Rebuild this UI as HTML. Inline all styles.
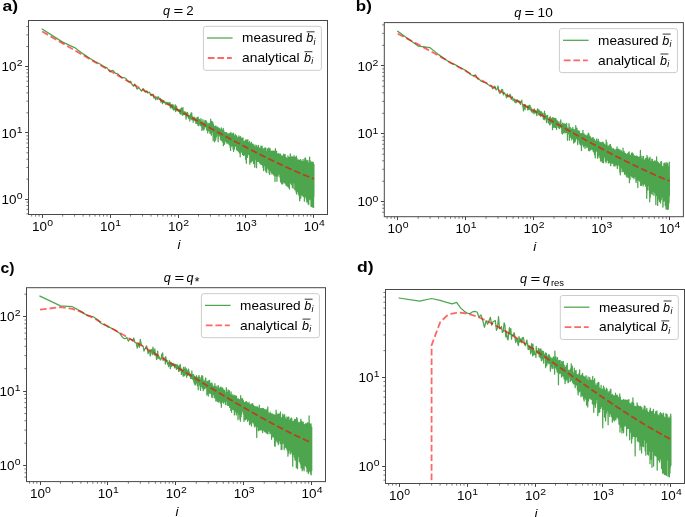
<!DOCTYPE html>
<html><head><meta charset="utf-8"><title>figure</title>
<style>html,body{margin:0;padding:0;background:#fff}svg{display:block}</style></head>
<body>
<svg width="685" height="517" viewBox="0 0 685 517" font-family='"Liberation Sans", sans-serif' fill="#000">
<rect width="685" height="517" fill="#fff"/>
<g opacity="0.999">
<clipPath id="clipa"><rect x="28.5" y="20.5" width="299.0" height="194.0"/></clipPath>
<g clip-path="url(#clipa)" fill="none" stroke-linejoin="round">
<polyline points="42.2,29.14 62.65,42.14 74.61,47.57 83.1,53.88 89.68,58.31 95.06,61.51 99.61,63.77 103.55,66.34 107.02,67.8 110.13,71.81 112.94,70.32 115.51,73.44 117.87,73.93 120.06,76.19 122.09,77.75 124,77.7 125.78,78.25 127.47,80.71 129.07,81.59 130.58,81.31 132.02,84.42 133.39,86.22 134.7,84.18 135.96,86.47 137.16,89.12 138.32,88.1 139.43,88.25 140.51,89.98 141.54,91.06 142.54,89.37 143.51,88.74 144.44,90.9 145.35,92.19 146.23,91.07 147.09,91.11 147.92,93.05 148.73,92.32 149.51,92.09 150.28,94.31 151.03,95.64 151.76,94.38 152.47,94.93 153.16,94.15 153.84,98 154.5,97.44 155.15,98.08 155.79,99.83 156.41,97.4 157.02,97.18 157.61,99.36 158.2,96.68 158.77,97.78 159.33,98.38 159.88,99.01 160.42,98.52 160.95,102.19 161.48,99.59 161.99,99.9 162.49,103.75 162.99,100.84 163.48,102.01 163.96,100.72 164.43,102.83 164.89,102.49 165.35,102.18 165.8,104.27 166.25,102.28 166.68,103.63 167.11,102.93 167.54,104.73 167.96,102.45 168.37,103.45 168.78,104.93 169.18,103.85 169.57,103.05 169.96,102.43 170.35,107.96 170.73,104.29 171.11,105.2 171.48,106.36 171.84,107.97 172.21,104.47 172.56,108.82 172.92,106.03 173.27,104.97 173.61,110.03 173.95,108.1 174.29,109.95 174.62,107.56 174.95,105.5 175.28,104.82 175.6,111.58 175.92,109.69 176.23,107.62 176.55,106.23 176.86,108.48 177.16,110.72 177.46,109.05 177.76,109.82 178.06,110.31 178.35,111.41 178.64,109.54 178.93,109.85 179.22,110.78 179.5,111.17 179.78,113.28 180.06,111.96 180.33,108.9 180.6,111.74 180.87,114.25 181.14,109.08 181.4,110.78 181.67,107.93 181.93,112.02 182.18,113.16 182.44,115.25 182.69,109.92 182.94,107.74 183.19,114.45 183.44,114.25 183.68,111.89 183.93,114.91 184.17,113.94 184.41,114.23 184.64,113.27 184.88,111.52 185.11,113.91 185.34,112.13 185.57,115.05 185.8,113.62 186.03,119.05 186.25,117.64 186.47,112.99 186.69,116.06 186.91,113.69 187.13,113.89 187.35,112.35 187.56,113.54 187.77,113.21 187.99,115.81 188.2,117.18 188.4,117.37 188.61,116.96 188.82,118.51 189.02,117.33 189.22,116.47 189.43,115.8 189.63,117.23 189.82,121.04 190.02,116.88 190.22,116.3 190.41,114.47 190.61,115.7 190.8,118.6 190.99,118.89 191.18,112.91 191.37,115.71 191.55,113.48 191.74,112.96 191.93,119.67 192.11,116.98 192.29,116.91 192.47,116.77 192.65,116.91 192.83,117.82 193.01,117.98 193.19,122.15 193.37,118.98 193.54,120.47 193.71,118.49 193.89,120 194.06,117.5 194.23,117.13 194.4,118.43 194.57,118.5 194.74,119.14 194.9,120.54 195.07,119.95 195.24,120.85 195.4,118.79 195.56,119.8 195.73,118.5 195.89,123.4 196.05,117.95 196.21,122.1 196.37,122.13 196.53,120.86 196.68,121.87 196.84,119.82 197,122.08 197.15,123.49 197.3,122.98 197.46,117.71 197.61,120.87 197.76,124.13 197.91,121.13 198.06,125.43 198.21,117.02 198.36,125.53 198.51,120.27 198.66,120.19 198.8,125.59 198.95,120.96 199.09,119.32 199.24,120.69 199.38,121.3 199.52,119.66 199.67,121.71 199.81,121.34 199.95,122.62 200.09,120.74 200.23,125.02 200.37,120.5 200.51,123.96 200.64,125.7 200.78,121.8 200.92,118.63 201.05,120.44 201.19,124.39 201.32,121.24 201.45,124.37 201.59,123.54 201.72,123.04 201.85,130.4 201.98,122.91 202.11,126.43 202.24,125.53 202.37,127.97 202.5,128.19 202.63,126.49 202.76,121.69 202.89,119.71 203.01,124.07 203.14,121.23 203.27,124.88 203.39,130.08 203.52,123.87 203.64,123.15 203.76,125.64 203.89,123.66 204.01,123.01 204.13,127.16 204.25,129.2 204.38,125.39 204.5,125.43 204.62,125.91 204.74,122.33 204.86,120.57 204.97,126.31 205.09,123.26 205.21,122.7 205.33,123.35 205.44,122.55 205.56,126.57 205.68,123.47 205.79,120.33 205.91,123.42 206.02,127.54 206.14,124.06 206.25,122.42 206.36,124.83 206.48,127.63 206.59,121.89 206.7,130.01 206.81,124.71 206.92,126.22 207.03,130.03 207.14,122.99 207.25,125.37 207.36,130.15 207.47,124.79 207.58,127.87 207.69,133 207.8,128.82 207.9,125.96 208.01,124.99 208.12,126.36 208.22,126.76 208.33,125.62 208.44,127.66 208.54,123.83 208.65,126.7 208.75,126.34 208.85,125.7 208.96,130.77 209.06,129.64 209.16,123.24 209.27,126.5 209.37,128.42 209.47,126.59 209.57,129.19 209.67,126.88 209.77,129.92 209.87,127 209.98,133.32 210.07,124.21 210.17,129.64 210.27,133.54 210.37,128.8 210.47,129.34 210.65,119.14 210.79,132.16 210.98,132.84 211.12,127.46 211.27,127.99 211.41,135.17 211.56,128.9 211.7,124.26 211.84,121.26 211.98,131.28 212.12,132.22 212.26,129.25 212.44,126.77 212.58,131.96 212.76,128.75 212.9,122.32 213.03,130.06 213.17,140.67 213.35,130.32 213.49,124.39 213.66,127.27 213.8,130.11 213.96,131.36 214.1,126.34 214.27,126.53 214.41,130.57 214.57,141.77 214.71,132.36 214.86,127.56 215,131.37 215.16,140.59 215.3,127.62 215.45,126.35 215.59,131.66 215.74,139.66 215.88,125.79 216.06,128.42 216.2,131.75 216.35,136.95 216.49,130.09 216.63,130.18 216.77,133.03 216.94,131.76 217.08,129.47 217.26,126.92 217.4,133.94 217.57,134.79 217.71,129.06 217.87,130.39 218.01,136.95 218.18,141.84 218.32,127.78 218.48,131.16 218.62,134.45 218.78,131.66 218.92,128.15 219.07,131.25 219.21,135.55 219.36,135.9 219.5,130.82 219.65,128.95 219.79,135.06 219.94,134.9 220.08,129.54 220.26,130.64 220.4,139.16 220.57,138.96 220.71,133.17 220.85,131.63 220.99,140.23 221.16,139.59 221.3,127.76 221.46,130.33 221.6,139.63 221.73,140.12 221.87,135.3 222.03,131.39 222.17,141.08 222.36,137.36 222.5,130.57 222.66,129.87 222.8,135.89 222.95,142.4 223.09,133.18 223.27,128.26 223.41,145.62 223.55,138 223.69,130.46 223.83,131.42 223.97,141.4 224.14,141.58 224.28,132.48 224.45,132.72 224.59,144.19 224.75,140.39 224.89,132.78 225.05,132.52 225.19,138.27 225.35,141.02 225.49,132.74 225.65,135.4 225.79,140.29 225.94,139.34 226.08,134.19 226.23,133.49 226.37,137.78 226.54,142.33 226.68,132.58 226.85,133.16 226.99,143.26 227.13,140.77 227.27,133.81 227.44,135.82 227.58,140.99 227.74,142.88 227.88,134.22 228.04,134.35 228.18,142.93 228.36,139.31 228.5,133.89 228.66,136.19 228.8,140.32 228.95,144.56 229.09,136.41 229.26,137.71 229.4,143.56 229.57,142.92 229.71,133.32 229.85,134.62 229.99,143.17 230.13,147.12 230.27,134.06 230.43,137.45 230.57,150.49 230.75,141.39 230.89,132.28 231.07,133.5 231.21,145.03 231.36,143.13 231.5,134.14 231.65,134.91 231.79,146.07 231.94,144.94 232.08,136.19 232.24,134.85 232.38,145.71 232.55,141.93 232.69,138.39 232.85,133.5 232.99,142.8 233.14,149.21 233.28,135.83 233.44,133.21 233.58,151.38 233.75,147.04 233.89,136.25 234.06,138.16 234.2,145.73 234.37,149.04 234.51,138.97 234.65,135.86 234.79,146.23 234.93,144.87 235.07,136.53 235.25,134.31 235.39,143.05 235.57,146.15 235.71,135.38 235.86,138.2 236,144.9 236.15,144.82 236.29,135.69 236.45,137.81 236.59,147.95 236.76,149.98 236.9,136.5 237.06,139.74 237.2,148.54 237.35,146.5 237.49,140.22 237.65,137.8 237.79,150.71 237.96,149.55 238.1,138.67 238.25,138.76 238.39,147.71 238.53,151.24 238.67,140.97 238.83,135.86 238.97,151.96 239.13,149.66 239.27,139.78 239.45,137.03 239.59,152.97 239.76,149.37 239.9,141.68 240.05,137.49 240.19,156.81 240.35,148.88 240.49,141.32 240.65,136.6 240.79,143.94 240.95,149.58 241.09,138.39 241.25,141.05 241.39,152.05 241.54,150.92 241.68,140.2 241.85,138.43 241.99,147.68 242.15,151.45 242.29,141.97 242.45,140.83 242.59,154.49 242.75,150.95 242.89,137.93 243.04,138.14 243.18,151.28 243.35,155.45 243.49,141.5 243.65,143.86 243.79,155.23 243.95,152.05 244.09,142.89 244.25,141.65 244.39,151.48 244.55,147.19 244.69,141.76 244.85,142.45 244.99,154.89 245.16,152.41 245.3,140.02 245.46,144.48 245.6,159.36 245.76,151.94 245.9,140.15 246.05,145.38 246.19,155.44 246.34,163.32 246.48,140.22 246.65,140.17 246.79,153.24 246.95,152.56 247.09,142.67 247.25,145.93 247.39,153.81 247.56,157.3 247.7,144.98 247.86,139.51 248,154.82 248.15,151.23 248.29,142.26 248.45,143.19 248.59,154.19 248.76,152.8 248.9,145.51 249.05,146.12 249.19,153.59 249.34,154.4 249.48,144.33 249.64,141.47 249.78,164.15 249.95,157.69 250.09,147.28 250.25,144.4 250.39,155.87 250.54,158.07 250.68,144.24 250.84,143.57 250.98,162.23 251.15,157.53 251.29,147.31 251.46,142.48 251.6,161.37 251.75,156.55 251.89,147.36 252.05,143.94 252.19,160.54 252.35,156.16 252.49,147.55 252.64,144.47 252.78,156.35 252.95,160.3 253.09,148.65 253.25,144.31 253.39,157.4 253.55,163.5 253.69,146.02 253.85,147.43 253.99,159.39 254.16,160.7 254.3,147.93 254.45,148.99 254.59,160.6 254.75,167.2 254.89,147.52 255.05,144.99 255.19,159.16 255.35,159.02 255.49,146.76 255.65,147.93 255.79,158.98 255.95,157.42 256.09,148.96 256.25,147.78 256.39,160.82 256.55,167.65 256.69,145.31 256.85,146.83 256.99,156.69 257.14,158.06 257.28,148.5 257.45,147.4 257.59,159.74 257.74,161.34 257.88,147.74 258.05,147.77 258.19,156.84 258.35,158.52 258.49,145.49 258.65,150.94 258.79,161.38 258.95,158.95 259.09,148.81 259.26,149.36 259.4,162.13 259.55,162.32 259.69,148.15 259.85,148.61 259.99,159.49 260.15,163.74 260.29,149.54 260.45,151.16 260.59,161.84 260.75,161.15 260.89,146.04 261.05,150.57 261.19,164.4 261.35,162.56 261.49,149.62 261.64,148.61 261.78,162.12 261.95,160.83 262.09,146.07 262.25,151.54 262.39,165.1 262.56,165.01 262.7,150.63 262.86,149.2 263,167.74 263.15,162.62 263.29,150.7 263.45,148.77 263.59,170.55 263.75,165.47 263.89,151.11 264.05,151.71 264.19,165.09 264.35,161 264.49,151.95 264.65,148.2 264.79,165.32 264.95,164.44 265.09,151.1 265.25,148.44 265.39,170.17 265.55,161.49 265.69,150.2 265.86,147.98 266,164.8 266.15,171.91 266.29,151.55 266.45,151.44 266.59,164.7 266.75,172.45 266.89,151.74 267.05,151.55 267.19,162.82 267.36,165.58 267.5,148.77 267.65,151.93 267.79,165.38 267.95,167.92 268.09,152.23 268.25,152.98 268.39,169.26 268.55,167.35 268.69,150.15 268.85,147.86 268.99,167.75 269.15,173.14 269.29,153.09 269.45,153.65 269.59,171.56 269.75,174.54 269.89,153.62 270.05,148.63 270.19,165.52 270.35,170.63 270.49,151.31 270.65,151.13 270.79,168.57 270.95,168.1 271.09,154.65 271.25,152.56 271.39,172.29 271.55,166.56 271.69,151.18 271.85,154.14 271.99,174 272.15,173.63 272.29,153.72 272.45,154.62 272.59,173.01 272.75,171.17 272.89,150.9 273.05,155.47 273.19,168.14 273.35,173.98 273.49,152.21 273.65,152.34 273.79,174.95 273.95,171.74 274.09,151.03 274.25,153.99 274.39,173.93 274.55,175.97 274.69,152 274.85,154.03 274.99,181.47 275.15,167.44 275.29,150.83 275.45,148.68 275.59,171.75 275.75,167.56 275.89,155.44 276.05,151.66 276.19,170.22 276.35,175.95 276.49,157.16 276.65,151.38 276.79,169.25 276.95,181.17 277.09,155.8 277.25,154.95 277.39,173.55 277.55,171.24 277.69,154.08 277.85,155.54 277.99,171.17 278.15,176.04 278.29,157.87 278.45,153.56 278.59,170.71 278.75,172.98 278.89,160.27 279.05,157.15 279.19,170.57 279.35,173.97 279.49,154.27 279.65,155.57 279.79,172.91 279.95,177.29 280.09,153.96 280.25,156.47 280.39,177.21 280.55,181.89 280.69,154.73 280.85,155.58 280.99,174.64 281.15,182.1 281.29,156.5 281.45,156.1 281.59,183.66 281.75,183.74 281.89,158.56 282.05,156.36 282.19,178.32 282.35,176.4 282.49,155.86 282.65,156.61 282.79,183.92 282.95,176.37 283.09,156.48 283.25,159.82 283.39,175.55 283.55,179.12 283.69,154.06 283.85,157.62 283.99,182.07 284.15,178.94 284.29,155.96 284.45,158.88 284.59,177.46 284.75,183.02 284.89,158.97 285.05,154.38 285.19,179.28 285.35,179.01 285.49,156.85 285.65,159.52 285.79,179.29 285.95,185.21 286.09,157.4 286.25,158.46 286.39,176.5 286.55,177.58 286.69,158.72 286.85,160.41 286.99,175.84 287.15,186.18 287.29,159.33 287.45,159.74 287.59,180.6 287.75,178.07 287.89,155.79 288.05,156.57 288.19,173.83 288.35,187.2 288.49,157.32 288.65,158.51 288.79,182.39 288.95,178.44 289.09,157.8 289.25,157.29 289.39,189.09 289.55,178.35 289.69,158.16 289.85,160.12 289.99,182.94 290.15,180.94 290.29,153.99 290.45,159.85 290.59,182.18 290.75,182.75 290.89,160.85 291.05,156.35 291.19,184.05 291.35,179.34 291.49,160.88 291.65,157.54 291.79,184.78 291.95,183.88 292.09,158.71 292.25,160.57 292.39,187.34 292.55,184.32 292.69,156.79 292.85,158.95 292.99,184.15 293.15,188.3 293.29,160.85 293.45,160.9 293.59,179.96 293.75,181.43 293.89,160.86 294.05,155.56 294.19,182.85 294.35,182.62 294.49,158.56 294.65,157.55 294.79,189.81 294.95,179.43 295.09,158.24 295.25,157.4 295.39,187.51 295.55,185.18 295.69,158.84 295.85,157.98 295.99,190.21 296.15,192.28 296.29,156.06 296.45,158.66 296.59,194.1 296.75,183.53 296.89,158.19 297.05,159.41 297.19,191.54 297.35,189.21 297.49,160.18 297.65,164.89 297.79,188.5 297.95,188.25 298.09,163.86 298.25,160.08 298.39,194.07 298.55,193.17 298.69,159.91 298.85,159.98 298.99,195.31 299.15,183.65 299.29,163.42 299.45,160.38 299.59,200.49 299.75,200.85 299.89,160.47 300.05,162.33 300.19,187.68 300.35,197.97 300.49,161.18 300.65,159.54 300.79,198.01 300.95,187.53 301.09,161.75 301.25,162.67 301.39,194.48 301.55,188.5 301.69,161.02 301.85,162.06 301.99,195.1 302.15,192.98 302.29,164.11 302.45,162.74 302.59,193.28 302.75,188.34 302.89,162.48 303.05,159.38 303.19,196.42 303.35,192.78 303.49,163.68 303.65,161.72 303.79,191.76 303.95,191.89 304.09,164.99 304.25,164.45 304.39,201.19 304.55,189.43 304.69,162.03 304.85,158.49 304.99,195.58 305.15,196.64 305.29,157.93 305.45,159.59 305.59,193.45 305.75,196.37 305.89,159.6 306.05,162.48 306.19,198.93 306.35,189.66 306.49,165.38 306.65,160.86 306.79,202.04 306.95,188.32 307.09,162.48 307.25,163.56 307.39,197.97 307.55,194.05 307.69,162.4 307.85,160.43 307.99,197.61 308.15,203.9 308.29,163.18 308.45,163.68 308.59,198.85 308.75,204.54 308.89,162.93 309.05,163.09 309.19,199.78 309.35,194.93 309.49,163.05 309.65,157.15 309.79,197.98 309.95,197.09 310.09,160.33 310.25,165.96 310.39,199.19 310.55,197.07 310.69,165.47 310.85,162.87 310.99,204.83 311.15,206.4 311.29,165.84 311.45,162.16 311.59,195.61 311.75,192.34 311.89,163.39 312.05,161.92 312.19,202.31 312.35,206.91 312.49,162.52 312.65,165.03 312.79,199.82 312.95,201.45 313.09,165.35 313.25,162.3 313.39,196.32 313.55,207.41 313.69,164.86 313.77,164.37 313.91,196.62 313.92,164.37 313.92,189.15" stroke="#008000" stroke-opacity="0.7" stroke-width="1.25" stroke-linecap="square"/>
<polyline points="42.2,31.55 62.65,43.37 74.61,50.3 83.1,55.22 89.68,59.04 95.06,62.16 99.61,64.8 103.55,67.08 107.02,69.09 110.13,70.89 112.94,72.52 115.51,74.01 117.87,75.38 120.06,76.64 122.09,77.82 124,78.92 125.78,79.96 127.47,80.93 129.07,81.85 130.58,82.73 132.02,83.56 133.39,84.35 134.7,85.11 135.96,85.83 137.16,86.53 138.32,87.2 139.43,87.84 140.51,88.46 141.54,89.05 142.54,89.63 143.51,90.19 144.44,90.73 145.35,91.25 146.23,91.76 147.09,92.25 147.92,92.73 148.73,93.19 149.51,93.64 150.28,94.08 151.03,94.51 151.76,94.93 152.47,95.34 153.16,95.74 153.84,96.13 154.5,96.51 155.15,96.88 155.79,97.24 156.41,97.6 157.02,97.95 157.61,98.29 158.2,98.63 158.77,98.95 159.33,99.28 159.88,99.59 160.42,99.9 160.95,100.21 161.48,100.51 161.99,100.8 162.49,101.09 162.99,101.37 163.48,101.65 163.96,101.92 164.43,102.19 164.89,102.46 165.35,102.72 165.8,102.98 166.25,103.23 166.68,103.48 167.11,103.73 167.54,103.97 167.96,104.21 168.37,104.44 168.78,104.68 169.18,104.91 169.57,105.13 169.96,105.35 170.35,105.57 170.73,105.79 171.11,106.01 171.48,106.22 171.84,106.43 172.21,106.63 172.56,106.84 172.92,107.04 173.27,107.24 173.61,107.43 173.95,107.63 174.29,107.82 174.62,108.01 174.95,108.19 175.28,108.38 175.6,108.56 175.92,108.74 176.23,108.92 176.55,109.1 176.86,109.28 177.16,109.45 177.46,109.62 177.76,109.79 178.06,109.96 178.35,110.13 178.64,110.29 178.93,110.46 179.22,110.62 179.5,110.78 179.78,110.94 180.06,111.09 180.33,111.25 180.6,111.4 180.87,111.56 181.14,111.71 181.4,111.86 181.67,112 181.93,112.15 182.18,112.3 182.44,112.44 182.69,112.59 182.94,112.73 183.19,112.87 183.44,113.01 183.68,113.15 183.93,113.28 184.17,113.42 184.41,113.56 184.64,113.69 184.88,113.82 185.11,113.95 185.34,114.08 185.57,114.21 185.8,114.34 186.03,114.47 186.25,114.6 186.47,114.72 186.69,114.85 186.91,114.97 187.13,115.09 187.35,115.22 187.56,115.34 187.77,115.46 187.99,115.58 188.2,115.7 188.4,115.81 188.61,115.93 188.82,116.05 189.02,116.16 189.22,116.27 189.43,116.39 189.63,116.5 189.82,116.61 190.02,116.72 190.22,116.83 190.41,116.94 190.61,117.05 190.8,117.16 190.99,117.27 191.18,117.38 191.37,117.48 191.55,117.59 191.74,117.69 191.93,117.8 192.11,117.9 192.29,118 192.47,118.1 192.65,118.2 192.83,118.31 193.01,118.41 193.19,118.51 193.37,118.6 193.54,118.7 193.71,118.8 193.89,118.9 194.06,118.99 194.23,119.09 194.4,119.19 194.57,119.28 194.74,119.37 194.9,119.47 195.07,119.56 195.24,119.65 195.4,119.75 195.56,119.84 195.73,119.93 195.89,120.02 196.05,120.11 196.21,120.2 196.37,120.29 196.53,120.38 196.68,120.46 196.84,120.55 197,120.64 197.15,120.73 197.3,120.81 197.46,120.9 197.61,120.98 197.76,121.07 197.91,121.15 198.06,121.24 198.21,121.32 198.36,121.4 198.51,121.49 198.66,121.57 198.8,121.65 198.95,121.73 199.09,121.81 199.24,121.89 199.38,121.97 199.52,122.05 199.67,122.13 199.81,122.21 199.95,122.29 200.09,122.37 200.23,122.45 200.37,122.52 200.51,122.6 200.64,122.68 200.78,122.75 200.92,122.83 201.05,122.91 201.19,122.98 201.32,123.06 201.45,123.13 201.59,123.21 201.72,123.28 201.85,123.35 201.98,123.43 202.11,123.5 202.24,123.57 202.37,123.64 202.5,123.72 202.63,123.79 202.76,123.86 202.89,123.93 203.01,124 203.14,124.07 203.27,124.14 203.39,124.21 203.52,124.28 203.64,124.35 203.76,124.42 203.89,124.49 204.01,124.55 204.13,124.62 204.25,124.69 204.38,124.76 204.5,124.82 204.62,124.89 204.74,124.96 204.86,125.02 204.97,125.09 205.09,125.16 205.21,125.22 205.33,125.29 205.44,125.35 205.56,125.42 205.68,125.48 205.79,125.54 205.91,125.61 206.02,125.67 206.14,125.73 206.25,125.8 206.36,125.86 206.48,125.92 206.59,125.99 206.7,126.05 206.81,126.11 206.92,126.17 207.03,126.23 207.14,126.29 207.25,126.35 207.36,126.42 207.47,126.48 207.58,126.54 207.69,126.6 207.8,126.66 207.9,126.72 208.01,126.77 208.12,126.83 208.22,126.89 208.33,126.95 208.44,127.01 208.54,127.07 208.65,127.13 208.75,127.18 208.85,127.24 208.96,127.3 209.06,127.36 209.16,127.41 209.27,127.47 209.37,127.53 209.47,127.58 209.57,127.64 209.67,127.69 209.77,127.75 209.87,127.81 209.98,127.86 210.07,127.92 210.17,127.97 210.27,128.03 210.37,128.08 210.47,128.13 210.57,128.19 210.67,128.24 210.76,128.3 210.86,128.35 210.96,128.4 211.06,128.46 211.15,128.51 211.25,128.56 211.34,128.62 211.44,128.67 211.53,128.72 211.63,128.77 211.72,128.83 211.82,128.88 211.91,128.93 212,128.98 212.1,129.03 212.19,129.08 212.28,129.13 212.37,129.19 212.47,129.24 212.56,129.29 212.65,129.34 212.74,129.39 212.83,129.44 212.92,129.49 213.01,129.54 213.1,129.59 213.19,129.64 213.28,129.69 213.37,129.73 213.46,129.78 213.55,129.83 213.64,129.88 213.73,129.93 213.81,129.98 213.9,130.03 213.99,130.07 214.08,130.12 214.16,130.17 214.25,130.22 214.34,130.27 214.42,130.31 214.51,130.36 214.59,130.41 214.68,130.45 214.76,130.5 214.85,130.55 214.93,130.59 215.02,130.64 215.1,130.69 215.19,130.73 215.27,130.78 215.35,130.82 215.44,130.87 215.52,130.92 215.6,130.96 215.69,131.01 215.77,131.05 215.85,131.1 215.93,131.14 216.01,131.19 216.09,131.23 216.18,131.28 216.26,131.32 216.34,131.36 216.42,131.41 216.5,131.45 216.58,131.5 216.66,131.54 216.74,131.58 216.82,131.63 216.9,131.67 216.98,131.71 217.05,131.76 217.13,131.8 217.21,131.84 217.29,131.89 217.37,131.93 217.44,131.97 217.52,132.01 217.6,132.06 217.68,132.1 217.75,132.14 217.83,132.18 217.91,132.22 217.98,132.27 218.06,132.31 218.14,132.35 218.21,132.39 218.29,132.43 218.36,132.47 218.44,132.51 218.51,132.55 218.59,132.6 218.66,132.64 218.74,132.68 218.81,132.72 218.88,132.76 218.96,132.8 219.03,132.84 220.82,133.81 222.5,134.73 224.09,135.59 225.6,136.41 227.04,137.19 228.41,137.93 229.72,138.63 230.97,139.31 232.17,139.95 233.33,140.57 234.44,141.16 235.51,141.73 236.54,142.28 237.54,142.81 238.51,143.33 239.44,143.82 240.35,144.3 241.23,144.76 242.08,145.21 242.91,145.65 243.72,146.07 244.51,146.48 245.27,146.88 246.02,147.27 246.75,147.65 247.46,148.02 248.15,148.38 248.83,148.73 249.49,149.07 250.14,149.41 250.77,149.73 251.39,150.05 252,150.37 252.6,150.67 253.18,150.97 253.75,151.27 254.31,151.55 254.87,151.83 255.41,152.11 255.94,152.38 256.46,152.64 256.97,152.91 257.48,153.16 257.97,153.41 258.46,153.66 258.94,153.9 259.41,154.14 259.87,154.37 260.33,154.6 260.78,154.83 261.22,155.05 261.66,155.27 262.09,155.48 262.52,155.7 262.93,155.9 263.35,156.11 263.75,156.31 264.15,156.51 264.55,156.71 264.94,156.9 265.33,157.09 265.71,157.28 266.08,157.47 266.45,157.65 266.82,157.83 267.18,158.01 267.54,158.18 267.89,158.36 268.24,158.53 268.59,158.7 268.93,158.87 269.26,159.03 269.6,159.19 269.93,159.35 270.25,159.51 270.57,159.67 270.89,159.82 271.21,159.98 271.52,160.13 271.83,160.28 272.14,160.43 272.44,160.57 272.74,160.72 273.03,160.86 273.33,161 273.62,161.14 273.91,161.28 274.19,161.42 274.47,161.55 274.75,161.69 275.03,161.82 275.3,161.95 275.58,162.08 275.84,162.21 276.11,162.34 276.38,162.46 276.64,162.59 276.9,162.71 277.16,162.83 277.41,162.95 277.66,163.07 277.92,163.19 278.16,163.31 278.41,163.43 278.66,163.54 278.9,163.66 279.14,163.77 279.38,163.88 279.61,164 279.85,164.11 280.08,164.22 280.31,164.32 280.54,164.43 280.77,164.54 281,164.64 281.22,164.75 281.44,164.85 281.67,164.96 281.88,165.06 282.1,165.16 282.32,165.26 282.53,165.36 282.75,165.46 282.96,165.56 283.17,165.66 283.38,165.75 283.58,165.85 283.79,165.94 283.99,166.04 284.19,166.13 284.4,166.22 284.6,166.32 284.79,166.41 284.99,166.5 285.19,166.59 285.38,166.68 285.58,166.77 285.77,166.85 285.96,166.94 286.15,167.03 286.34,167.12 286.52,167.2 286.71,167.29 286.9,167.37 287.08,167.45 287.26,167.54 287.44,167.62 287.62,167.7 287.8,167.78 287.98,167.86 288.16,167.94 288.33,168.02 288.51,168.1 288.68,168.18 288.86,168.26 289.03,168.34 289.2,168.42 289.37,168.49 289.54,168.57 289.71,168.64 289.87,168.72 290.04,168.79 290.2,168.87 290.37,168.94 290.53,169.02 290.7,169.09 290.86,169.16 291.02,169.23 291.18,169.3 291.34,169.38 291.49,169.45 291.65,169.52 291.81,169.59 291.96,169.66 292.12,169.72 292.27,169.79 292.43,169.86 292.58,169.93 292.73,170 292.88,170.06 293.03,170.13 293.18,170.2 293.33,170.26 293.48,170.33 293.62,170.39 293.77,170.46 293.92,170.52 294.06,170.59 294.21,170.65 294.35,170.71 294.49,170.78 294.63,170.84 294.78,170.9 294.92,170.96 295.06,171.02 295.2,171.08 295.33,171.15 295.47,171.21 295.61,171.27 295.75,171.33 295.88,171.39 296.02,171.44 296.15,171.5 296.29,171.56 296.42,171.62 296.56,171.68 296.69,171.74 296.82,171.79 296.95,171.85 297.08,171.91 297.21,171.96 297.34,172.02 297.47,172.08 297.6,172.13 297.73,172.19 297.85,172.24 297.98,172.3 298.11,172.35 298.23,172.41 298.36,172.46 298.48,172.51 298.61,172.57 298.73,172.62 298.85,172.67 298.98,172.73 299.1,172.78 299.22,172.83 299.34,172.88 299.46,172.93 299.58,172.99 299.7,173.04 299.82,173.09 299.94,173.14 300.06,173.19 300.18,173.24 300.29,173.29 300.41,173.34 300.53,173.39 300.64,173.44 300.76,173.49 300.87,173.54 300.99,173.59 301.1,173.63 301.22,173.68 301.33,173.73 301.44,173.78 301.55,173.83 301.67,173.87 301.78,173.92 301.89,173.97 302,174.01 302.11,174.06 302.22,174.11 302.33,174.15 302.44,174.2 302.55,174.24 302.65,174.29 302.76,174.34 302.87,174.38 302.98,174.43 303.08,174.47 303.19,174.52 303.3,174.56 303.4,174.6 303.51,174.65 303.61,174.69 303.72,174.74 303.82,174.78 303.92,174.82 304.03,174.87 304.13,174.91 304.23,174.95 304.33,174.99 304.44,175.04 304.54,175.08 304.64,175.12 304.74,175.16 304.84,175.21 304.94,175.25 305.04,175.29 305.14,175.33 305.24,175.37 305.34,175.41 305.44,175.45 305.54,175.49 305.63,175.53 305.73,175.57 305.83,175.61 305.92,175.65 306.02,175.69 306.12,175.73 306.21,175.77 306.31,175.81 306.4,175.85 306.5,175.89 306.59,175.93 306.69,175.97 306.78,176.01 306.88,176.05 306.97,176.08 307.06,176.12 307.16,176.16 307.25,176.2 307.34,176.24 307.43,176.27 307.52,176.31 307.62,176.35 307.71,176.39 307.8,176.42 307.89,176.46 307.98,176.5 308.07,176.53 308.16,176.57 308.25,176.61 308.34,176.64 308.43,176.68 308.52,176.72 308.6,176.75 308.69,176.79 308.78,176.82 308.87,176.86 308.95,176.89 309.04,176.93 309.13,176.97 309.22,177 309.3,177.04 309.39,177.07 309.47,177.1 309.56,177.14 309.64,177.17 309.73,177.21 309.81,177.24 309.9,177.28 309.98,177.31 310.07,177.34 310.15,177.38 310.24,177.41 310.32,177.45 310.4,177.48 310.49,177.51 310.57,177.55 310.65,177.58 310.73,177.61 310.81,177.64 310.9,177.68 310.98,177.71 311.06,177.74 311.14,177.77 311.22,177.81 311.3,177.84 311.38,177.87 311.46,177.9 311.54,177.94 311.62,177.97 311.7,178 311.78,178.03 311.86,178.06 311.94,178.09 312.02,178.13 312.1,178.16 312.18,178.19 312.25,178.22 312.33,178.25 312.41,178.28 312.49,178.31 312.56,178.34 312.64,178.37 312.72,178.4 312.8,178.43 312.87,178.46 312.95,178.49 313.02,178.52 313.1,178.55 313.18,178.58 313.25,178.61 313.33,178.64 313.4,178.67 313.48,178.7 313.55,178.73 313.63,178.76 313.7,178.79 313.78,178.82 313.85,178.85 313.92,178.88" stroke="#ff0000" stroke-opacity="0.6" stroke-width="1.8" stroke-dasharray="6.7 2.9" stroke-linecap="butt"/>
</g>
<path d="M42.5 214.5v3.4M110.5 214.5v3.4M178.5 214.5v3.4M245.5 214.5v3.4M313.5 214.5v3.4M28.5 199.5h-3.4M28.5 132.5h-3.4M28.5 66.5h-3.4" stroke="#444" stroke-width="1" fill="none"/>
<path d="M31.68 214.5v2.1M35.62 214.5v2.1M39.09 214.5v2.1M62.65 214.5v2.1M74.61 214.5v2.1M83.1 214.5v2.1M89.68 214.5v2.1M95.06 214.5v2.1M99.61 214.5v2.1M103.55 214.5v2.1M107.02 214.5v2.1M130.58 214.5v2.1M142.54 214.5v2.1M151.03 214.5v2.1M157.61 214.5v2.1M162.99 214.5v2.1M167.54 214.5v2.1M171.48 214.5v2.1M174.95 214.5v2.1M198.51 214.5v2.1M210.47 214.5v2.1M218.96 214.5v2.1M225.54 214.5v2.1M230.92 214.5v2.1M235.47 214.5v2.1M239.41 214.5v2.1M242.88 214.5v2.1M266.44 214.5v2.1M278.4 214.5v2.1M286.89 214.5v2.1M293.47 214.5v2.1M298.85 214.5v2.1M303.4 214.5v2.1M307.34 214.5v2.1M310.81 214.5v2.1M28.5 213.81h-2.1M28.5 209.37h-2.1M28.5 205.53h-2.1M28.5 202.13h-2.1M28.5 179.14h-2.1M28.5 167.47h-2.1M28.5 159.18h-2.1M28.5 152.76h-2.1M28.5 147.51h-2.1M28.5 143.07h-2.1M28.5 139.23h-2.1M28.5 135.83h-2.1M28.5 112.84h-2.1M28.5 101.17h-2.1M28.5 92.88h-2.1M28.5 86.46h-2.1M28.5 81.21h-2.1M28.5 76.77h-2.1M28.5 72.93h-2.1M28.5 69.53h-2.1M28.5 46.54h-2.1M28.5 34.87h-2.1M28.5 26.58h-2.1" stroke="#555" stroke-width="0.8" fill="none"/>
<rect x="28.5" y="20.5" width="299.0" height="194.0" fill="none" stroke="#484848" stroke-width="1"/>
<text x="32.1" y="230.6" font-size="13.4" textLength="15.0" lengthAdjust="spacingAndGlyphs">10</text><text x="47.3" y="225.7" font-size="9.3" textLength="5.8" lengthAdjust="spacingAndGlyphs">0</text>
<text x="100.03" y="230.6" font-size="13.4" textLength="15.0" lengthAdjust="spacingAndGlyphs">10</text><text x="115.23" y="225.7" font-size="9.3" textLength="5.8" lengthAdjust="spacingAndGlyphs">1</text>
<text x="167.96" y="230.6" font-size="13.4" textLength="15.0" lengthAdjust="spacingAndGlyphs">10</text><text x="183.16" y="225.7" font-size="9.3" textLength="5.8" lengthAdjust="spacingAndGlyphs">2</text>
<text x="235.89" y="230.6" font-size="13.4" textLength="15.0" lengthAdjust="spacingAndGlyphs">10</text><text x="251.09" y="225.7" font-size="9.3" textLength="5.8" lengthAdjust="spacingAndGlyphs">3</text>
<text x="303.82" y="230.6" font-size="13.4" textLength="15.0" lengthAdjust="spacingAndGlyphs">10</text><text x="319.02" y="225.7" font-size="9.3" textLength="5.8" lengthAdjust="spacingAndGlyphs">4</text>
<text x="1.6" y="203.8" font-size="13.4" textLength="15.0" lengthAdjust="spacingAndGlyphs">10</text><text x="16.8" y="198.9" font-size="9.3" textLength="5.8" lengthAdjust="spacingAndGlyphs">0</text>
<text x="1.6" y="137.5" font-size="13.4" textLength="15.0" lengthAdjust="spacingAndGlyphs">10</text><text x="16.8" y="132.6" font-size="9.3" textLength="5.8" lengthAdjust="spacingAndGlyphs">1</text>
<text x="1.6" y="71.2" font-size="13.4" textLength="15.0" lengthAdjust="spacingAndGlyphs">10</text><text x="16.8" y="66.3" font-size="9.3" textLength="5.8" lengthAdjust="spacingAndGlyphs">2</text>
<text x="179" y="248.9" font-size="13.4" font-style="italic" text-anchor="middle">i</text>
<rect x="203.4" y="26.3" width="118" height="44" rx="2.4" fill="#fff" fill-opacity="0.8" stroke="#ccc" stroke-width="1"/>
<path d="M207 38h25.6" stroke="#008000" stroke-opacity="0.7" stroke-width="1.25"/>
<path d="M207.8 58h24" stroke="#ff0000" stroke-opacity="0.6" stroke-width="1.8" stroke-dasharray="6.7 2.9"/>
<text x="242.1" y="42.3" font-size="12.6" textLength="60.6" lengthAdjust="spacingAndGlyphs">measured</text>
<text x="306.2" y="42.3" font-size="12.6" font-style="italic">b</text><path d="M306.7 31.8h7.9" stroke="#000" stroke-width="0.8"/><text x="313.5" y="44.5" font-size="8.8" font-style="italic">i</text>
<text x="242.1" y="62.2" font-size="12.6" textLength="57.4" lengthAdjust="spacingAndGlyphs">analytical</text>
<text x="304" y="62.2" font-size="12.6" font-style="italic">b</text><path d="M304.5 51.7h7.9" stroke="#000" stroke-width="0.8"/><text x="311.3" y="64.4" font-size="8.8" font-style="italic">i</text>
<clipPath id="clipb"><rect x="384.3" y="22.6" width="299.09999999999997" height="194.1"/></clipPath>
<g clip-path="url(#clipb)" fill="none" stroke-linejoin="round">
<polyline points="397.7,31.29 418.15,46.09 430.11,47.65 438.6,54.63 445.18,59.26 450.56,63.08 455.11,64.65 459.05,66.94 462.52,68.68 465.63,70.36 468.44,72.4 471.01,74.79 473.37,75.93 475.56,74.9 477.59,78.83 479.5,79.44 481.28,81.23 482.97,81.89 484.57,82.5 486.08,82.55 487.52,84.2 488.89,85.08 490.2,86.24 491.46,85.92 492.66,88.8 493.82,87.35 494.93,86.2 496.01,89.85 497.04,89.36 498.04,85.99 499.01,91.95 499.94,93.48 500.85,92.15 501.73,89.48 502.59,89.67 503.42,94.86 504.23,92.65 505.01,93.93 505.78,95.27 506.53,97.84 507.26,93.77 507.97,96.95 508.66,95.62 509.34,96.34 510,94.2 510.65,95.53 511.29,99.34 511.91,98.34 512.52,96.81 513.11,100.68 513.7,99.57 514.27,98.99 514.83,102.13 515.38,101.85 515.92,102.91 516.45,100.16 516.98,101.74 517.49,99.77 517.99,101.31 518.49,100.88 518.98,102.18 519.46,101.15 519.93,102.76 520.39,104.37 520.85,101.26 521.3,101.82 521.75,100.1 522.18,104.13 522.61,105.04 523.04,106.63 523.46,110.99 523.87,106.89 524.28,104.3 524.68,106.7 525.07,109.7 525.46,104.76 525.85,106.95 526.23,106.82 526.61,107.15 526.98,106.91 527.34,106.06 527.71,109.95 528.06,107.69 528.42,108.35 528.77,105.69 529.11,109.64 529.45,105.19 529.79,107.2 530.12,105.57 530.45,109.89 530.78,107.39 531.1,108.39 531.42,111.89 531.73,109.9 532.05,110.41 532.36,111.51 532.66,111.34 532.96,112.76 533.26,111.16 533.56,109.84 533.85,112.08 534.14,113.75 534.43,108.95 534.72,111.85 535,111.29 535.28,111.93 535.56,112.66 535.83,110.59 536.1,112.97 536.37,112.07 536.64,115.1 536.9,115.66 537.17,113.33 537.43,108.9 537.68,112.5 537.94,109.12 538.19,112.22 538.44,112.36 538.69,114.62 538.94,113.66 539.18,110.04 539.43,111.38 539.67,115.29 539.91,115.12 540.14,111.45 540.38,115.49 540.61,112.57 540.84,116.6 541.07,113.45 541.3,111.68 541.53,113.25 541.75,114.68 541.97,115.04 542.19,115.66 542.41,115.66 542.63,113.11 542.85,113.27 543.06,115.04 543.27,118.9 543.49,117.36 543.7,115.65 543.9,116.35 544.11,119.65 544.32,115.16 544.52,111.14 544.72,119.73 544.93,116.91 545.13,113.48 545.32,118.22 545.52,118.31 545.72,117.1 545.91,116.27 546.11,118.67 546.3,115.53 546.49,122.58 546.68,116.49 546.87,117.28 547.05,118.64 547.24,117.44 547.43,118.38 547.61,115.46 547.79,119.79 547.97,118.9 548.15,122.32 548.33,121.76 548.51,119.69 548.69,123.11 548.87,121.38 549.04,122.73 549.21,120.71 549.39,119.32 549.56,117.41 549.73,124.87 549.9,120.4 550.07,117.87 550.24,116.76 550.4,116.8 550.57,124.01 550.74,121.67 550.9,119.06 551.06,118.25 551.23,119.95 551.39,120.08 551.55,120.24 551.71,122.92 551.87,120.62 552.03,119.08 552.18,122.08 552.34,118.38 552.5,129.62 552.65,122.32 552.8,117.4 552.96,119.44 553.11,118.16 553.26,121.45 553.41,125.12 553.56,123.35 553.71,118.3 553.86,127.37 554.01,124.85 554.16,127.19 554.3,123.86 554.45,123.64 554.59,121.07 554.74,124.93 554.88,118.47 555.02,121.14 555.17,124.2 555.31,125.77 555.45,127.38 555.59,122.83 555.73,118.28 555.87,123.75 556.01,126.31 556.14,123.63 556.28,124.98 556.42,126.19 556.55,129.39 556.69,123.93 556.82,120.02 556.95,120.72 557.09,121.41 557.22,123.5 557.35,122.87 557.48,121.54 557.61,124.45 557.74,123.59 557.87,125.58 558,121.51 558.13,127.31 558.26,122.81 558.39,122.42 558.51,122.54 558.64,122.94 558.77,126.29 558.89,126.67 559.02,126.28 559.14,126.25 559.26,128.65 559.39,126.6 559.51,127.26 559.63,128.31 559.75,124.48 559.88,127.85 560,124.93 560.12,121.76 560.24,121.29 560.36,125.77 560.47,123.1 560.59,125.25 560.71,119.84 560.83,121.69 560.94,123.09 561.06,126.69 561.18,127.04 561.29,124.81 561.41,126.51 561.52,127.23 561.64,124.59 561.75,130.64 561.86,133.45 561.98,130 562.09,130.55 562.2,127.12 562.31,129.72 562.42,127.61 562.53,134.04 562.64,123.08 562.75,126.04 562.86,130.05 562.97,126.4 563.08,123.93 563.19,125.04 563.3,127.78 563.4,125.79 563.51,125.09 563.62,131.74 563.72,132.66 563.83,129.74 563.94,125.05 564.04,123.79 564.15,127.58 564.25,123.82 564.35,125.23 564.46,128.38 564.56,130.7 564.66,130.41 564.77,128.09 564.87,124.41 564.97,126 565.07,133.05 565.17,132.83 565.27,126.23 565.37,128.08 565.48,131.98 565.57,126.78 565.67,124.92 565.77,126.54 565.87,128.62 565.97,125.15 566.15,123.88 566.29,132.38 566.48,129.46 566.62,123.34 566.77,126.04 566.91,128.06 567.06,131.48 567.2,127.54 567.34,130.17 567.48,140.27 567.62,132.86 567.76,129.86 567.94,128.89 568.08,133.77 568.26,133.43 568.4,128.62 568.53,129.51 568.67,131.08 568.85,132.37 568.99,123.61 569.16,126.02 569.3,133.27 569.46,140.24 569.6,129.63 569.77,130.34 569.91,134.11 570.07,131.43 570.21,127.37 570.36,131.96 570.5,137.22 570.66,135.67 570.8,129.49 570.95,132.24 571.09,134.37 571.24,131.15 571.38,128.83 571.56,131.54 571.7,139.8 571.85,132.13 571.99,130.16 572.13,129.96 572.27,137.15 572.44,137.7 572.58,131.45 572.76,127.38 572.9,137.68 573.07,138.6 573.21,129.14 573.37,130.16 573.51,137.62 573.68,143.1 573.82,133.17 573.98,130.03 574.12,139.18 574.28,141.06 574.42,132.39 574.57,129.88 574.71,137.81 574.86,142.14 575,134.03 575.15,131.62 575.29,141.11 575.44,140.87 575.58,131.29 575.76,125.6 575.9,139.22 576.07,138.49 576.21,132.82 576.35,132.3 576.49,134.03 576.66,138.6 576.8,131.21 576.96,128.07 577.1,135.84 577.23,134.65 577.37,130.63 577.53,132.3 577.67,144.54 577.86,137.01 578,133.18 578.16,132.04 578.3,137.45 578.45,139.58 578.59,134.27 578.77,130.7 578.91,140.06 579.05,138.29 579.19,131.66 579.33,131.36 579.47,143.22 579.64,142.34 579.78,135.93 579.95,134.97 580.09,139.21 580.25,144.8 580.39,135.01 580.55,133.62 580.69,139.28 580.85,143.19 580.99,134.04 581.15,134.6 581.29,140.73 581.44,150.59 581.58,133.54 581.73,136 581.87,142.33 582.04,140.34 582.18,134.99 582.35,133.67 582.49,144.12 582.63,140.9 582.77,135.34 582.94,130.29 583.08,145.21 583.24,143.13 583.38,137.51 583.54,136.64 583.68,146.8 583.86,141.97 584,133.78 584.16,134.14 584.3,142.33 584.45,144.37 584.59,135.42 584.76,136 584.9,141.79 585.07,148.48 585.21,135.85 585.35,137.98 585.49,145.62 585.63,145.12 585.77,136.6 585.93,134.97 586.07,144.43 586.25,144.77 586.39,137.18 586.57,140.05 586.71,147.51 586.86,145.5 587,136.17 587.15,136.77 587.29,144.49 587.44,141.6 587.58,135.01 587.74,138.59 587.88,144.99 588.05,147.28 588.19,139.52 588.35,133.07 588.49,150.51 588.64,148.04 588.78,138.26 588.94,133.78 589.08,145.61 589.25,147.75 589.39,136.16 589.56,138.23 589.7,150.77 589.87,149.77 590.01,136.26 590.15,137.99 590.29,146.95 590.43,149.67 590.57,140.46 590.75,137.73 590.89,144.29 591.07,149.21 591.21,138.56 591.36,140.21 591.5,149.21 591.65,146.28 591.79,138.82 591.95,140.45 592.09,148.65 592.26,149.59 592.4,137.99 592.56,142.2 592.7,148.84 592.85,147.53 592.99,139.48 593.15,137.66 593.29,151.28 593.46,151.81 593.6,142.43 593.75,142.62 593.89,150.15 594.03,145.81 594.17,139.21 594.33,139.47 594.47,153.8 594.63,154.72 594.77,142.5 594.95,141.12 595.09,150.19 595.26,157.95 595.4,143.13 595.55,143.54 595.69,151.6 595.85,151.52 595.99,140.69 596.15,142.15 596.29,149.4 596.45,150.94 596.59,140.35 596.75,138.99 596.89,149.31 597.04,151.01 597.18,141.6 597.35,143.81 597.49,154.67 597.65,158.26 597.79,143.47 597.95,141.43 598.09,157.03 598.25,156.31 598.39,139.46 598.54,142.57 598.68,154.83 598.85,150.62 598.99,142.76 599.15,141.75 599.29,154.73 599.45,155.01 599.59,143.96 599.75,146.61 599.89,157.74 600.05,153.94 600.19,142.94 600.35,146.12 600.49,161.05 600.66,150.83 600.8,143.62 600.96,142.32 601.1,151.3 601.26,160.91 601.4,144.52 601.55,144.41 601.69,152.21 601.84,158.5 601.98,142.79 602.15,145.13 602.29,160.34 602.45,162.42 602.59,142.05 602.75,144.55 602.89,157.17 603.06,153.17 603.2,144.27 603.36,142.84 603.5,162.77 603.65,156.92 603.79,144.62 603.95,143.65 604.09,154.19 604.26,156.08 604.4,144.34 604.55,144.74 604.69,155.58 604.84,156.99 604.98,147.2 605.14,145.11 605.28,155.56 605.45,161.11 605.59,146.71 605.75,146.29 605.89,160.03 606.04,162.71 606.18,140 606.34,148.67 606.48,160.41 606.65,160.87 606.79,142.48 606.96,144.13 607.1,156.4 607.25,155.72 607.39,147.05 607.55,147.25 607.69,156.45 607.85,159.98 607.99,146.12 608.14,147.87 608.28,163.06 608.45,158.26 608.59,149.22 608.75,147.36 608.89,159.59 609.05,157.21 609.19,146.34 609.35,145.06 609.49,162.65 609.66,159.1 609.8,149.86 609.95,147.29 610.09,158.2 610.25,161.55 610.39,144.49 610.55,146.87 610.69,165.62 610.85,165.33 610.99,146.4 611.15,147.31 611.29,157.73 611.45,162.9 611.59,147.82 611.75,148.06 611.89,160.31 612.05,160.73 612.19,148.94 612.35,149.13 612.49,163.29 612.64,161.3 612.78,150.08 612.95,149.53 613.09,159.34 613.24,162.99 613.38,148.61 613.55,149.75 613.69,162.9 613.85,165.95 613.99,149.09 614.15,149.57 614.29,162.64 614.45,158.91 614.59,152.17 614.76,150.64 614.9,162.43 615.05,165.95 615.19,151.11 615.35,151.09 615.49,159.17 615.65,163.21 615.79,151.7 615.95,149.47 616.09,164.78 616.25,164.91 616.39,151.96 616.55,151.65 616.69,164.62 616.85,163.86 616.99,146.97 617.14,150.08 617.28,167.29 617.45,168.37 617.59,152.01 617.75,151.54 617.89,162.51 618.06,164.16 618.2,150.16 618.36,149.15 618.5,164.65 618.65,161.31 618.79,150.93 618.95,151.92 619.09,161.72 619.25,166.02 619.39,153.35 619.55,150.22 619.69,164.69 619.85,172.3 619.99,149.55 620.15,152.03 620.29,174.95 620.45,164.89 620.59,153.68 620.75,152.09 620.89,164.05 621.05,164.09 621.19,153.32 621.36,150.84 621.5,167.95 621.65,165.98 621.79,154.11 621.95,152.4 622.09,171.88 622.25,171.15 622.39,152.44 622.55,153.16 622.69,171.07 622.86,165.5 623,148.12 623.15,153.32 623.29,168.25 623.45,171 623.59,151.8 623.75,156.06 623.89,166.11 624.05,171.86 624.19,151.72 624.35,155.11 624.49,168.64 624.65,174.26 624.79,155.23 624.95,153.62 625.09,171 625.25,165.27 625.39,153.36 625.55,153.9 625.69,170.44 625.85,174.07 625.99,153.85 626.15,156 626.29,176 626.45,173.18 626.59,156.45 626.75,155.61 626.89,176.97 627.05,167.54 627.19,154.33 627.35,156.24 627.49,169.5 627.65,173.06 627.79,153.29 627.95,154.7 628.09,171.85 628.25,177.5 628.39,152.77 628.55,153.98 628.69,169.91 628.85,174.67 628.99,153.95 629.15,151.84 629.29,171.65 629.45,182.71 629.59,154.54 629.75,156.38 629.89,178.07 630.05,179.4 630.19,156.06 630.35,155.82 630.49,175.67 630.65,171.86 630.79,156.04 630.95,158.32 631.09,171.41 631.25,169.71 631.39,153.41 631.55,154.74 631.69,175.04 631.85,177.03 631.99,152.87 632.15,159.39 632.29,175.09 632.45,173.84 632.59,153.14 632.75,158.12 632.89,175.92 633.05,177.53 633.19,157.43 633.35,154.46 633.49,174.38 633.65,176.45 633.79,155.01 633.95,155.63 634.09,178.85 634.25,173.91 634.39,157.58 634.55,157.98 634.69,176.35 634.85,173.62 634.99,156.43 635.15,157.41 635.29,174.29 635.45,177 635.59,158.5 635.75,158.3 635.89,179.68 636.05,182.54 636.19,155.8 636.35,158.58 636.49,180.37 636.65,177.22 636.79,160.26 636.95,159.29 637.09,179.33 637.25,178.14 637.39,156.33 637.55,157.61 637.69,174.48 637.85,187.51 637.99,158.95 638.15,160.02 638.29,179.88 638.45,179.72 638.59,159.05 638.75,157.31 638.89,178.87 639.05,178.61 639.19,156.99 639.35,157.33 639.49,180.18 639.65,181.12 639.79,162.58 639.95,158.39 640.09,177.5 640.25,180.06 640.39,150.27 640.55,159.15 640.69,185.38 640.85,185.33 640.99,156.23 641.15,156.07 641.29,177.37 641.45,185.26 641.59,161.51 641.75,159.75 641.89,180.87 642.05,179.66 642.19,159.73 642.35,159 642.49,183.61 642.65,184.04 642.79,158.62 642.95,156.36 643.09,186.1 643.25,181.73 643.39,162.59 643.55,156.65 643.69,179.1 643.85,184.58 643.99,160.1 644.15,161.36 644.29,182.56 644.45,182.43 644.59,160.85 644.75,160.36 644.89,183.35 645.05,182.55 645.19,162.97 645.35,159.25 645.49,186.18 645.65,184.87 645.79,158.3 645.95,158.92 646.09,186.01 646.25,179.87 646.39,159.67 646.55,160.61 646.69,198.37 646.85,191.92 646.99,155.37 647.15,161.87 647.29,182.23 647.45,185.8 647.59,162.38 647.75,157.32 647.89,185.94 648.05,189.97 648.19,163.51 648.35,159.72 648.49,185.08 648.65,183.56 648.79,161.88 648.95,161.1 649.09,184.01 649.25,185.65 649.39,158.27 649.55,161.24 649.69,201.82 649.85,184.14 649.99,157.1 650.15,161.14 650.29,197.25 650.45,186.76 650.59,161.72 650.75,163.02 650.89,189.29 651.05,187.9 651.19,164.67 651.35,164.03 651.49,186.61 651.65,193.43 651.79,159.13 651.95,162.95 652.09,188.91 652.25,194.26 652.39,159.53 652.55,159.57 652.69,191.18 652.85,191.18 652.99,162.88 653.15,164.66 653.29,188.8 653.45,189.75 653.59,164.5 653.75,161.78 653.89,195.44 654.05,191.52 654.19,164.78 654.35,161.46 654.49,190.14 654.65,192.95 654.79,163.96 654.95,160.59 655.09,192.96 655.25,192.11 655.39,164.01 655.55,161.98 655.69,193.69 655.85,204.64 655.99,162.68 656.15,164.43 656.29,193.34 656.45,191.96 656.59,156.96 656.75,162.27 656.89,188.75 657.05,195.42 657.19,161.39 657.35,165.01 657.49,193.52 657.65,205.44 657.79,163.13 657.95,165 658.09,195.72 658.25,194.72 658.39,163.59 658.55,162.54 658.69,198.75 658.85,196.18 658.99,163.88 659.15,163.5 659.29,192.83 659.45,201.49 659.59,165.37 659.75,165.29 659.89,194.07 660.05,195.69 660.19,166.44 660.35,164.37 660.49,202.91 660.65,200.86 660.79,161.91 660.95,164.69 661.09,196.02 661.25,199.69 661.39,165.17 661.55,161.51 661.69,192.09 661.85,193.39 661.99,167.75 662.15,166.39 662.29,192.26 662.45,197.27 662.59,168.57 662.75,167.77 662.89,207.04 663.05,205.96 663.19,168.1 663.35,166.56 663.49,198.82 663.65,198.54 663.79,165.58 663.95,163.45 664.09,197.52 664.25,200.85 664.39,164.99 664.55,163.31 664.69,197.02 664.85,198.88 664.99,164.55 665.15,162.81 665.29,205.39 665.45,192.78 665.59,166.14 665.75,166.7 665.89,200.25 666.05,208.95 666.19,164.43 666.35,166.13 666.49,200.9 666.65,207.58 666.79,162.51 666.95,167.02 667.09,200.23 667.25,209.43 667.39,168.17 667.55,163.57 667.69,200.13 667.85,199.52 667.99,168.17 668.15,166.32 668.29,209.08 668.45,201.28 668.59,166.93 668.75,168.45 668.89,203.13 669.05,201.17 669.19,165.1 669.27,162.06 669.41,195.08 669.42,176.87 669.42,195.08" stroke="#008000" stroke-opacity="0.7" stroke-width="1.25" stroke-linecap="square"/>
<polyline points="397.7,33.68 418.15,44.39 430.11,50.94 438.6,55.67 445.18,59.39 450.56,62.44 455.11,65.04 459.05,67.3 462.52,69.29 465.63,71.08 468.44,72.7 471.01,74.19 473.37,75.55 475.56,76.82 477.59,78 479.5,79.1 481.28,80.14 482.97,81.12 484.57,82.04 486.08,82.92 487.52,83.76 488.89,84.56 490.2,85.32 491.46,86.05 492.66,86.75 493.82,87.42 494.93,88.07 496.01,88.7 497.04,89.3 498.04,89.88 499.01,90.44 499.94,90.99 500.85,91.52 501.73,92.03 502.59,92.53 503.42,93.01 504.23,93.48 505.01,93.94 505.78,94.38 506.53,94.82 507.26,95.24 507.97,95.66 508.66,96.06 509.34,96.46 510,96.84 510.65,97.22 511.29,97.59 511.91,97.95 512.52,98.3 513.11,98.65 513.7,98.99 514.27,99.32 514.83,99.65 515.38,99.97 515.92,100.28 516.45,100.59 516.98,100.9 517.49,101.19 517.99,101.49 518.49,101.78 518.98,102.06 519.46,102.34 519.93,102.61 520.39,102.88 520.85,103.15 521.3,103.41 521.75,103.67 522.18,103.92 522.61,104.17 523.04,104.42 523.46,104.66 523.87,104.9 524.28,105.13 524.68,105.37 525.07,105.6 525.46,105.82 525.85,106.05 526.23,106.27 526.61,106.49 526.98,106.7 527.34,106.91 527.71,107.12 528.06,107.33 528.42,107.53 528.77,107.74 529.11,107.94 529.45,108.13 529.79,108.33 530.12,108.52 530.45,108.71 530.78,108.9 531.1,109.09 531.42,109.27 531.73,109.45 532.05,109.64 532.36,109.81 532.66,109.99 532.96,110.17 533.26,110.34 533.56,110.51 533.85,110.68 534.14,110.85 534.43,111.01 534.72,111.18 535,111.34 535.28,111.5 535.56,111.66 535.83,111.82 536.1,111.98 536.37,112.13 536.64,112.29 536.9,112.44 537.17,112.59 537.43,112.74 537.68,112.89 537.94,113.04 538.19,113.18 538.44,113.33 538.69,113.47 538.94,113.61 539.18,113.76 539.43,113.9 539.67,114.03 539.91,114.17 540.14,114.31 540.38,114.44 540.61,114.58 540.84,114.71 541.07,114.84 541.3,114.97 541.53,115.1 541.75,115.23 541.97,115.36 542.19,115.49 542.41,115.62 542.63,115.74 542.85,115.87 543.06,115.99 543.27,116.11 543.49,116.23 543.7,116.35 543.9,116.47 544.11,116.59 544.32,116.71 544.52,116.83 544.72,116.94 544.93,117.06 545.13,117.17 545.32,117.29 545.52,117.4 545.72,117.51 545.91,117.63 546.11,117.74 546.3,117.85 546.49,117.96 546.68,118.07 546.87,118.17 547.05,118.28 547.24,118.39 547.43,118.49 547.61,118.6 547.79,118.7 547.97,118.81 548.15,118.91 548.33,119.01 548.51,119.12 548.69,119.22 548.87,119.32 549.04,119.42 549.21,119.52 549.39,119.62 549.56,119.72 549.73,119.81 549.9,119.91 550.07,120.01 550.24,120.1 550.4,120.2 550.57,120.3 550.74,120.39 550.9,120.48 551.06,120.58 551.23,120.67 551.39,120.76 551.55,120.86 551.71,120.95 551.87,121.04 552.03,121.13 552.18,121.22 552.34,121.31 552.5,121.4 552.65,121.48 552.8,121.57 552.96,121.66 553.11,121.75 553.26,121.83 553.41,121.92 553.56,122.01 553.71,122.09 553.86,122.18 554.01,122.26 554.16,122.34 554.3,122.43 554.45,122.51 554.59,122.59 554.74,122.68 554.88,122.76 555.02,122.84 555.17,122.92 555.31,123 555.45,123.08 555.59,123.16 555.73,123.24 555.87,123.32 556.01,123.4 556.14,123.48 556.28,123.55 556.42,123.63 556.55,123.71 556.69,123.79 556.82,123.86 556.95,123.94 557.09,124.01 557.22,124.09 557.35,124.16 557.48,124.24 557.61,124.31 557.74,124.39 557.87,124.46 558,124.54 558.13,124.61 558.26,124.68 558.39,124.75 558.51,124.83 558.64,124.9 558.77,124.97 558.89,125.04 559.02,125.11 559.14,125.18 559.26,125.25 559.39,125.32 559.51,125.39 559.63,125.46 559.75,125.53 559.88,125.6 560,125.67 560.12,125.74 560.24,125.8 560.36,125.87 560.47,125.94 560.59,126.01 560.71,126.07 560.83,126.14 560.94,126.21 561.06,126.27 561.18,126.34 561.29,126.4 561.41,126.47 561.52,126.53 561.64,126.6 561.75,126.66 561.86,126.73 561.98,126.79 562.09,126.85 562.2,126.92 562.31,126.98 562.42,127.04 562.53,127.11 562.64,127.17 562.75,127.23 562.86,127.29 562.97,127.35 563.08,127.42 563.19,127.48 563.3,127.54 563.4,127.6 563.51,127.66 563.62,127.72 563.72,127.78 563.83,127.84 563.94,127.9 564.04,127.96 564.15,128.02 564.25,128.08 564.35,128.14 564.46,128.19 564.56,128.25 564.66,128.31 564.77,128.37 564.87,128.43 564.97,128.48 565.07,128.54 565.17,128.6 565.27,128.66 565.37,128.71 565.48,128.77 565.57,128.83 565.67,128.88 565.77,128.94 565.87,128.99 565.97,129.05 566.07,129.1 566.17,129.16 566.26,129.21 566.36,129.27 566.46,129.32 566.56,129.38 566.65,129.43 566.75,129.49 566.84,129.54 566.94,129.59 567.03,129.65 567.13,129.7 567.22,129.75 567.32,129.81 567.41,129.86 567.5,129.91 567.6,129.97 567.69,130.02 567.78,130.07 567.87,130.12 567.97,130.17 568.06,130.23 568.15,130.28 568.24,130.33 568.33,130.38 568.42,130.43 568.51,130.48 568.6,130.53 568.69,130.58 568.78,130.63 568.87,130.68 568.96,130.73 569.05,130.78 569.14,130.83 569.23,130.88 569.31,130.93 569.4,130.98 569.49,131.03 569.58,131.08 569.66,131.13 569.75,131.18 569.84,131.23 569.92,131.27 570.01,131.32 570.09,131.37 570.18,131.42 570.26,131.47 570.35,131.51 570.43,131.56 570.52,131.61 570.6,131.66 570.69,131.7 570.77,131.75 570.85,131.8 570.94,131.84 571.02,131.89 571.1,131.94 571.19,131.98 571.27,132.03 571.35,132.07 571.43,132.12 571.51,132.17 571.59,132.21 571.68,132.26 571.76,132.3 571.84,132.35 571.92,132.39 572,132.44 572.08,132.48 572.16,132.53 572.24,132.57 572.32,132.62 572.4,132.66 572.48,132.71 572.55,132.75 572.63,132.79 572.71,132.84 572.79,132.88 572.87,132.92 572.94,132.97 573.02,133.01 573.1,133.05 573.18,133.1 573.25,133.14 573.33,133.18 573.41,133.23 573.48,133.27 573.56,133.31 573.64,133.35 573.71,133.4 573.79,133.44 573.86,133.48 573.94,133.52 574.01,133.56 574.09,133.61 574.16,133.65 574.24,133.69 574.31,133.73 574.38,133.77 574.46,133.81 574.53,133.86 576.32,134.85 578,135.79 579.59,136.67 581.1,137.51 582.54,138.3 583.91,139.06 585.22,139.78 586.47,140.47 587.67,141.13 588.83,141.76 589.94,142.37 591.01,142.95 592.04,143.51 593.04,144.05 594.01,144.58 594.94,145.08 595.85,145.57 596.73,146.05 597.58,146.51 598.41,146.95 599.22,147.39 600.01,147.81 600.77,148.22 601.52,148.62 602.25,149 602.96,149.38 603.65,149.75 604.33,150.11 604.99,150.46 605.64,150.8 606.27,151.14 606.89,151.46 607.5,151.78 608.1,152.1 608.68,152.4 609.25,152.7 609.81,153 610.37,153.28 610.91,153.57 611.44,153.84 611.96,154.12 612.47,154.38 612.98,154.64 613.47,154.9 613.96,155.15 614.44,155.4 614.91,155.64 615.37,155.88 615.83,156.12 616.28,156.35 616.72,156.58 617.16,156.8 617.59,157.02 618.02,157.24 618.43,157.45 618.85,157.66 619.25,157.87 619.65,158.07 620.05,158.28 620.44,158.47 620.83,158.67 621.21,158.86 621.58,159.05 621.95,159.24 622.32,159.42 622.68,159.61 623.04,159.79 623.39,159.96 623.74,160.14 624.09,160.31 624.43,160.48 624.76,160.65 625.1,160.82 625.43,160.98 625.75,161.15 626.07,161.31 626.39,161.47 626.71,161.62 627.02,161.78 627.33,161.93 627.64,162.08 627.94,162.23 628.24,162.38 628.53,162.53 628.83,162.67 629.12,162.81 629.41,162.96 629.69,163.1 629.97,163.24 630.25,163.37 630.53,163.51 630.8,163.64 631.08,163.78 631.34,163.91 631.61,164.04 631.88,164.17 632.14,164.29 632.4,164.42 632.66,164.55 632.91,164.67 633.16,164.79 633.42,164.92 633.66,165.04 633.91,165.16 634.16,165.27 634.4,165.39 634.64,165.51 634.88,165.62 635.11,165.74 635.35,165.85 635.58,165.96 635.81,166.07 636.04,166.18 636.27,166.29 636.5,166.4 636.72,166.51 636.94,166.62 637.17,166.72 637.38,166.83 637.6,166.93 637.82,167.03 638.03,167.14 638.25,167.24 638.46,167.34 638.67,167.44 638.88,167.54 639.08,167.63 639.29,167.73 639.49,167.83 639.69,167.92 639.9,168.02 640.1,168.11 640.29,168.21 640.49,168.3 640.69,168.39 640.88,168.48 641.08,168.57 641.27,168.66 641.46,168.75 641.65,168.84 641.84,168.93 642.02,169.02 642.21,169.11 642.4,169.19 642.58,169.28 642.76,169.36 642.94,169.45 643.12,169.53 643.3,169.62 643.48,169.7 643.66,169.78 643.83,169.86 644.01,169.94 644.18,170.03 644.36,170.11 644.53,170.18 644.7,170.26 644.87,170.34 645.04,170.42 645.21,170.5 645.37,170.58 645.54,170.65 645.7,170.73 645.87,170.8 646.03,170.88 646.2,170.95 646.36,171.03 646.52,171.1 646.68,171.17 646.84,171.25 646.99,171.32 647.15,171.39 647.31,171.46 647.46,171.53 647.62,171.6 647.77,171.67 647.93,171.74 648.08,171.81 648.23,171.88 648.38,171.95 648.53,172.02 648.68,172.09 648.83,172.15 648.98,172.22 649.12,172.29 649.27,172.35 649.42,172.42 649.56,172.49 649.71,172.55 649.85,172.62 649.99,172.68 650.13,172.74 650.28,172.81 650.42,172.87 650.56,172.93 650.7,173 650.83,173.06 650.97,173.12 651.11,173.18 651.25,173.24 651.38,173.31 651.52,173.37 651.65,173.43 651.79,173.49 651.92,173.55 652.06,173.61 652.19,173.66 652.32,173.72 652.45,173.78 652.58,173.84 652.71,173.9 652.84,173.96 652.97,174.01 653.1,174.07 653.23,174.13 653.35,174.18 653.48,174.24 653.61,174.29 653.73,174.35 653.86,174.41 653.98,174.46 654.11,174.52 654.23,174.57 654.35,174.62 654.48,174.68 654.6,174.73 654.72,174.79 654.84,174.84 654.96,174.89 655.08,174.94 655.2,175 655.32,175.05 655.44,175.1 655.56,175.15 655.68,175.2 655.79,175.26 655.91,175.31 656.03,175.36 656.14,175.41 656.26,175.46 656.37,175.51 656.49,175.56 656.6,175.61 656.72,175.66 656.83,175.71 656.94,175.76 657.05,175.8 657.17,175.85 657.28,175.9 657.39,175.95 657.5,176 657.61,176.05 657.72,176.09 657.83,176.14 657.94,176.19 658.05,176.23 658.15,176.28 658.26,176.33 658.37,176.37 658.48,176.42 658.58,176.47 658.69,176.51 658.8,176.56 658.9,176.6 659.01,176.65 659.11,176.69 659.22,176.74 659.32,176.78 659.42,176.83 659.53,176.87 659.63,176.91 659.73,176.96 659.83,177 659.94,177.05 660.04,177.09 660.14,177.13 660.24,177.18 660.34,177.22 660.44,177.26 660.54,177.3 660.64,177.35 660.74,177.39 660.84,177.43 660.94,177.47 661.04,177.51 661.13,177.55 661.23,177.6 661.33,177.64 661.42,177.68 661.52,177.72 661.62,177.76 661.71,177.8 661.81,177.84 661.9,177.88 662,177.92 662.09,177.96 662.19,178 662.28,178.04 662.38,178.08 662.47,178.12 662.56,178.16 662.66,178.2 662.75,178.24 662.84,178.27 662.93,178.31 663.02,178.35 663.12,178.39 663.21,178.43 663.3,178.47 663.39,178.5 663.48,178.54 663.57,178.58 663.66,178.62 663.75,178.65 663.84,178.69 663.93,178.73 664.02,178.77 664.1,178.8 664.19,178.84 664.28,178.88 664.37,178.91 664.45,178.95 664.54,178.98 664.63,179.02 664.72,179.06 664.8,179.09 664.89,179.13 664.97,179.16 665.06,179.2 665.14,179.23 665.23,179.27 665.31,179.3 665.4,179.34 665.48,179.37 665.57,179.41 665.65,179.44 665.74,179.48 665.82,179.51 665.9,179.55 665.99,179.58 666.07,179.62 666.15,179.65 666.23,179.68 666.31,179.72 666.4,179.75 666.48,179.78 666.56,179.82 666.64,179.85 666.72,179.88 666.8,179.92 666.88,179.95 666.96,179.98 667.04,180.02 667.12,180.05 667.2,180.08 667.28,180.11 667.36,180.14 667.44,180.18 667.52,180.21 667.6,180.24 667.68,180.27 667.75,180.3 667.83,180.34 667.91,180.37 667.99,180.4 668.06,180.43 668.14,180.46 668.22,180.49 668.3,180.52 668.37,180.56 668.45,180.59 668.52,180.62 668.6,180.65 668.68,180.68 668.75,180.71 668.83,180.74 668.9,180.77 668.98,180.8 669.05,180.83 669.13,180.86 669.2,180.89 669.28,180.92 669.35,180.95 669.42,180.98" stroke="#ff0000" stroke-opacity="0.6" stroke-width="1.8" stroke-dasharray="6.7 2.9" stroke-linecap="butt"/>
</g>
<path d="M397.5 216.7v3.4M465.5 216.7v3.4M533.5 216.7v3.4M601.5 216.7v3.4M669.5 216.7v3.4M384.3 201.5h-3.4M384.3 133.5h-3.4M384.3 65.5h-3.4" stroke="#444" stroke-width="1" fill="none"/>
<path d="M387.18 216.7v2.1M391.12 216.7v2.1M394.59 216.7v2.1M418.15 216.7v2.1M430.11 216.7v2.1M438.6 216.7v2.1M445.18 216.7v2.1M450.56 216.7v2.1M455.11 216.7v2.1M459.05 216.7v2.1M462.52 216.7v2.1M486.08 216.7v2.1M498.04 216.7v2.1M506.53 216.7v2.1M513.11 216.7v2.1M518.49 216.7v2.1M523.04 216.7v2.1M526.98 216.7v2.1M530.45 216.7v2.1M554.01 216.7v2.1M565.97 216.7v2.1M574.46 216.7v2.1M581.04 216.7v2.1M586.42 216.7v2.1M590.97 216.7v2.1M594.91 216.7v2.1M598.38 216.7v2.1M621.94 216.7v2.1M633.9 216.7v2.1M642.39 216.7v2.1M648.97 216.7v2.1M654.35 216.7v2.1M658.9 216.7v2.1M662.84 216.7v2.1M666.31 216.7v2.1M384.3 212.23h-2.1M384.3 208.29h-2.1M384.3 204.81h-2.1M384.3 181.25h-2.1M384.3 169.28h-2.1M384.3 160.79h-2.1M384.3 154.2h-2.1M384.3 148.82h-2.1M384.3 144.28h-2.1M384.3 140.34h-2.1M384.3 136.86h-2.1M384.3 113.3h-2.1M384.3 101.33h-2.1M384.3 92.84h-2.1M384.3 86.25h-2.1M384.3 80.87h-2.1M384.3 76.33h-2.1M384.3 72.39h-2.1M384.3 68.91h-2.1M384.3 45.35h-2.1M384.3 33.38h-2.1M384.3 24.89h-2.1" stroke="#555" stroke-width="0.8" fill="none"/>
<rect x="384.3" y="22.6" width="299.09999999999997" height="194.1" fill="none" stroke="#484848" stroke-width="1"/>
<text x="387.6" y="232.8" font-size="13.4" textLength="15.0" lengthAdjust="spacingAndGlyphs">10</text><text x="402.8" y="227.9" font-size="9.3" textLength="5.8" lengthAdjust="spacingAndGlyphs">0</text>
<text x="455.53" y="232.8" font-size="13.4" textLength="15.0" lengthAdjust="spacingAndGlyphs">10</text><text x="470.73" y="227.9" font-size="9.3" textLength="5.8" lengthAdjust="spacingAndGlyphs">1</text>
<text x="523.46" y="232.8" font-size="13.4" textLength="15.0" lengthAdjust="spacingAndGlyphs">10</text><text x="538.66" y="227.9" font-size="9.3" textLength="5.8" lengthAdjust="spacingAndGlyphs">2</text>
<text x="591.39" y="232.8" font-size="13.4" textLength="15.0" lengthAdjust="spacingAndGlyphs">10</text><text x="606.59" y="227.9" font-size="9.3" textLength="5.8" lengthAdjust="spacingAndGlyphs">3</text>
<text x="659.32" y="232.8" font-size="13.4" textLength="15.0" lengthAdjust="spacingAndGlyphs">10</text><text x="674.52" y="227.9" font-size="9.3" textLength="5.8" lengthAdjust="spacingAndGlyphs">4</text>
<text x="357.4" y="206.4" font-size="13.4" textLength="15.0" lengthAdjust="spacingAndGlyphs">10</text><text x="372.6" y="201.5" font-size="9.3" textLength="5.8" lengthAdjust="spacingAndGlyphs">0</text>
<text x="357.4" y="138.45" font-size="13.4" textLength="15.0" lengthAdjust="spacingAndGlyphs">10</text><text x="372.6" y="133.55" font-size="9.3" textLength="5.8" lengthAdjust="spacingAndGlyphs">1</text>
<text x="357.4" y="70.5" font-size="13.4" textLength="15.0" lengthAdjust="spacingAndGlyphs">10</text><text x="372.6" y="65.6" font-size="9.3" textLength="5.8" lengthAdjust="spacingAndGlyphs">2</text>
<text x="534.85" y="251.1" font-size="13.4" font-style="italic" text-anchor="middle">i</text>
<rect x="559.4" y="28.6" width="118" height="44" rx="2.4" fill="#fff" fill-opacity="0.8" stroke="#ccc" stroke-width="1"/>
<path d="M563 40.3h25.6" stroke="#008000" stroke-opacity="0.7" stroke-width="1.25"/>
<path d="M563.8 60.3h24" stroke="#ff0000" stroke-opacity="0.6" stroke-width="1.8" stroke-dasharray="6.7 2.9"/>
<text x="598.1" y="44.6" font-size="12.6" textLength="60.6" lengthAdjust="spacingAndGlyphs">measured</text>
<text x="662.2" y="44.6" font-size="12.6" font-style="italic">b</text><path d="M662.7 34.1h7.9" stroke="#000" stroke-width="0.8"/><text x="669.5" y="46.8" font-size="8.8" font-style="italic">i</text>
<text x="598.1" y="64.5" font-size="12.6" textLength="57.4" lengthAdjust="spacingAndGlyphs">analytical</text>
<text x="660" y="64.5" font-size="12.6" font-style="italic">b</text><path d="M660.5 54h7.9" stroke="#000" stroke-width="0.8"/><text x="667.3" y="66.7" font-size="8.8" font-style="italic">i</text>
<clipPath id="clipc"><rect x="26.5" y="287.7" width="299.0" height="193.90000000000003"/></clipPath>
<g clip-path="url(#clipc)" fill="none" stroke-linejoin="round">
<polyline points="40,296.18 60.45,305.81 72.41,306.7 80.9,311.38 87.48,315.64 92.86,316.5 97.41,319.51 101.35,323.5 104.82,325.06 107.93,326.61 110.74,327.86 113.31,329.27 115.67,330.44 117.86,332.07 119.89,333.4 121.8,336.54 123.58,338.39 125.27,338.7 126.87,337.45 128.38,341.19 129.82,339 131.19,339.58 132.5,340.8 133.76,338.04 134.96,342.56 136.12,342.58 137.23,348.21 138.31,343.18 139.34,347.45 140.34,339.27 141.31,344.95 142.24,345.4 143.15,346.22 144.03,351.09 144.89,349 145.72,347.72 146.53,345.86 147.31,348.37 148.08,353.68 148.83,350.57 149.56,350.78 150.27,355.97 150.96,349.75 151.64,349.6 152.3,354.62 152.95,347.04 153.59,351.97 154.21,354.77 154.82,348.86 155.41,355.47 156,353.89 156.57,359.53 157.13,357.82 157.68,351.04 158.22,358.18 158.75,358.06 159.28,356.91 159.79,358.61 160.29,360 160.79,359.69 161.28,357.89 161.76,354.08 162.23,356.14 162.69,352.95 163.15,360.67 163.6,358.47 164.05,358.53 164.48,358.16 164.91,357.89 165.34,364.02 165.76,356.59 166.17,360.52 166.58,361.85 166.98,360.32 167.37,362.55 167.76,364.39 168.15,362.54 168.53,366.59 168.91,364.79 169.28,360.53 169.64,361.38 170.01,365.55 170.36,368.59 170.72,362.81 171.07,362.52 171.41,363.84 171.75,366.29 172.09,363.96 172.42,365.18 172.75,364.04 173.08,363.24 173.4,365.03 173.72,365.62 174.03,363.91 174.35,364.81 174.66,367.83 174.96,366.13 175.26,364.31 175.56,364.74 175.86,367.22 176.15,367.01 176.44,369.43 176.73,366.37 177.02,364.32 177.3,366.21 177.58,368.65 177.86,365.97 178.13,367.84 178.4,366.28 178.67,371.38 178.94,369.37 179.2,366.41 179.47,365.68 179.73,370.81 179.98,370.25 180.24,364.27 180.49,368.26 180.74,369.83 180.99,368.22 181.24,371.17 181.48,374.42 181.73,369.97 181.97,371.1 182.21,371.94 182.44,370.46 182.68,372.98 182.91,372.07 183.14,376.15 183.37,367.75 183.6,367.28 183.83,374.46 184.05,375.96 184.27,370.49 184.49,369.5 184.71,373.12 184.93,375.12 185.15,367.11 185.36,374.16 185.57,371.33 185.79,371.69 186,371.76 186.2,369.21 186.41,369.03 186.62,377.32 186.82,373.52 187.02,370.17 187.23,372.91 187.43,375.39 187.62,371.41 187.82,375.27 188.02,374.44 188.21,371.63 188.41,372.48 188.6,369.02 188.79,372.37 188.98,374.49 189.17,371.62 189.35,374.86 189.54,374.64 189.73,374.54 189.91,376.27 190.09,374.39 190.27,374.8 190.45,374.89 190.63,378.39 190.81,373.92 190.99,375.43 191.17,376.3 191.34,376.39 191.51,378.07 191.69,378.28 191.86,370.98 192.03,375.84 192.2,374.28 192.37,374.55 192.54,379 192.7,377.24 192.87,378.55 193.04,375.43 193.2,376.01 193.36,380.23 193.53,374.51 193.69,374.69 193.85,381.98 194.01,376.49 194.17,376.89 194.33,383.53 194.48,381.62 194.64,376.35 194.8,382 194.95,384.78 195.1,378.15 195.26,385.05 195.41,379.1 195.56,378.25 195.71,378.97 195.86,376.98 196.01,379.08 196.16,379.82 196.31,382.79 196.46,375.67 196.6,383.09 196.75,378.2 196.89,379.67 197.04,380.83 197.18,384 197.32,385.52 197.47,380.02 197.61,377.73 197.75,379.72 197.89,383.94 198.03,377.13 198.17,389.84 198.31,380.66 198.44,377.48 198.58,377.21 198.72,380.96 198.85,376.86 198.99,375.47 199.12,381.64 199.25,377.41 199.39,380.69 199.52,377.63 199.65,385.21 199.78,378.79 199.91,377.35 200.04,377.77 200.17,381.06 200.3,388.83 200.43,380.61 200.56,390.46 200.69,381.23 200.81,381.12 200.94,379.78 201.07,383.99 201.19,379.81 201.32,383.24 201.44,386.29 201.56,381.66 201.69,375.55 201.81,381.23 201.93,380.92 202.05,377.48 202.18,379.12 202.3,379.19 202.42,388.13 202.54,385.67 202.66,376.16 202.77,382.23 202.89,386.05 203.01,379.13 203.13,381.89 203.24,390.8 203.36,385.73 203.48,387.64 203.59,387.98 203.71,386.23 203.82,388.77 203.94,385.31 204.05,382.96 204.16,384.56 204.28,384.64 204.39,380.89 204.5,385.1 204.61,383.66 204.72,387.46 204.83,388.78 204.94,382.6 205.05,388.06 205.16,383.98 205.27,381.56 205.38,386.39 205.49,378.07 205.6,380.95 205.7,387.71 205.81,378.2 205.92,383.17 206.02,381.42 206.13,386.79 206.24,383.87 206.34,386.03 206.45,384.1 206.55,387.85 206.65,387.19 206.76,388.27 206.86,394.9 206.96,388.9 207.07,384.67 207.17,390.68 207.27,389.86 207.37,381.36 207.47,393.37 207.57,386.84 207.67,384.35 207.78,383.97 207.87,384.81 207.97,385.15 208.07,386.51 208.17,390.73 208.27,396.03 208.45,380.94 208.59,390.74 208.78,392.67 208.92,386.55 209.07,381.1 209.21,386.12 209.36,386.35 209.5,380.48 209.64,382.33 209.78,393.58 209.92,386.77 210.06,385.53 210.24,385.9 210.38,393.09 210.56,390.54 210.7,383.71 210.83,385.57 210.97,391.42 211.15,390.46 211.29,386.57 211.46,383.28 211.6,394.99 211.76,397.07 211.9,382.78 212.07,386.53 212.21,397.62 212.37,393.41 212.51,384.77 212.66,385.68 212.8,388.32 212.96,393.77 213.1,387.56 213.25,387.68 213.39,394.41 213.54,394.14 213.68,387.28 213.86,386.57 214,388.93 214.15,397.36 214.29,389.31 214.43,389.28 214.57,393.58 214.74,397.77 214.88,383.72 215.06,394.46 215.2,397.92 215.37,396.2 215.51,388.35 215.67,388.17 215.81,400.93 215.98,395.45 216.12,388.42 216.28,386.39 216.42,393.09 216.58,397.37 216.72,390.62 216.87,389.1 217.01,392.89 217.16,401.17 217.3,389.28 217.45,388.17 217.59,397.38 217.74,401.57 217.88,388.33 218.06,385.54 218.2,399.33 218.37,399.91 218.51,385.76 218.65,391.22 218.79,398.74 218.96,402.32 219.1,390.78 219.26,392.04 219.4,398.26 219.53,400.66 219.67,388.73 219.83,389.38 219.97,392.82 220.16,398.19 220.3,387.42 220.46,391.14 220.6,403.04 220.75,401.77 220.89,392.85 221.07,387.02 221.21,396.98 221.35,407.33 221.49,388.37 221.63,389.25 221.77,401.14 221.94,398.85 222.08,391.37 222.25,391 222.39,400.11 222.55,401.96 222.69,387.84 222.85,392.85 222.99,397.26 223.15,397.86 223.29,394.03 223.45,391.66 223.59,403.21 223.74,401.45 223.88,389.92 224.03,393.45 224.17,398.59 224.34,398.77 224.48,390.35 224.65,391.69 224.79,401.7 224.93,400.38 225.07,393.21 225.24,396.13 225.38,400.28 225.54,404.55 225.68,395.66 225.84,392.96 225.98,397.86 226.16,400.28 226.3,387.51 226.46,393.47 226.6,400.95 226.75,396.82 226.89,392.1 227.06,392.46 227.2,405.07 227.37,403.86 227.51,392.72 227.65,393.69 227.79,403.88 227.93,399.74 228.07,389.88 228.23,397.69 228.37,405.47 228.55,399.56 228.69,391.15 228.87,391.49 229.01,402.7 229.16,405.34 229.3,396.66 229.45,390.67 229.59,404.84 229.74,407.36 229.88,395.47 230.04,394.61 230.18,403.94 230.35,405.24 230.49,397.81 230.65,394.32 230.79,410.49 230.94,401.48 231.08,391.99 231.24,394.9 231.38,405.17 231.55,412.27 231.69,397.76 231.86,395.55 232,402.31 232.17,409.42 232.31,398.49 232.45,395.1 232.59,404.62 232.73,403.62 232.87,398.03 233.05,394.88 233.19,406.46 233.37,409.58 233.51,396.21 233.66,397.09 233.8,408.62 233.95,405.99 234.09,397.05 234.25,398.44 234.39,414.89 234.56,407.24 234.7,395.37 234.86,398.4 235,407.55 235.15,409.17 235.29,395.88 235.45,396.97 235.59,411.55 235.76,407.68 235.9,397.7 236.05,398.94 236.19,413.36 236.33,414.96 236.47,396.1 236.63,401.34 236.77,412.72 236.93,408.61 237.07,399.15 237.25,398.93 237.39,409.29 237.56,412.34 237.7,399.79 237.85,401.28 237.99,419.75 238.15,416.84 238.29,399.82 238.45,398.76 238.59,409.13 238.75,407.31 238.89,401.12 239.05,400.29 239.19,414.18 239.34,409.49 239.48,399.73 239.65,401.5 239.79,418.96 239.95,407.6 240.09,400.66 240.25,399.71 240.39,421.16 240.55,410.04 240.69,395.64 240.84,400.89 240.98,415.48 241.15,416.7 241.29,398.56 241.45,403.54 241.59,413.89 241.75,412.09 241.89,401.75 242.05,402.39 242.19,406.52 242.35,411.01 242.49,398.68 242.65,400.18 242.79,411.21 242.96,411.34 243.1,403.63 243.26,400.46 243.4,411.6 243.56,413.89 243.7,403.12 243.85,402.3 243.99,421.44 244.14,413.93 244.28,403.94 244.45,402.78 244.59,411.28 244.75,416.87 244.89,402.54 245.05,403.03 245.19,417.31 245.36,419.77 245.5,402.24 245.66,402.2 245.8,417.47 245.95,414.56 246.09,405.73 246.25,401.29 246.39,418.94 246.56,414.67 246.7,402.3 246.85,407.07 246.99,414.94 247.14,414.92 247.28,404.98 247.44,402.8 247.58,421.26 247.75,418.17 247.89,406.43 248.05,403.6 248.19,412.66 248.34,419.91 248.48,403.52 248.64,403.11 248.78,418.75 248.95,417.26 249.09,402.43 249.26,406.22 249.4,419.28 249.55,424.66 249.69,407.2 249.85,405.2 249.99,422.14 250.15,423.02 250.29,407.89 250.44,406.62 250.58,420.26 250.75,416.22 250.89,404.2 251.05,406.54 251.19,421.8 251.35,425.96 251.49,404.13 251.65,406.17 251.79,420.31 251.96,421.14 252.1,407.15 252.25,409.23 252.39,421.82 252.55,418.64 252.69,403.59 252.85,409.16 252.99,423.04 253.15,422.96 253.29,407.65 253.45,405.69 253.59,418.77 253.75,422.12 253.89,407.97 254.05,406 254.19,422.31 254.35,425.69 254.49,406.69 254.65,408.15 254.79,427.09 254.94,423.03 255.08,408.44 255.25,406.65 255.39,419.45 255.54,425.78 255.68,409.36 255.85,411.45 255.99,423.9 256.15,420.32 256.29,407.45 256.45,408.73 256.59,426.76 256.75,437.58 256.89,409.66 257.06,406.48 257.2,426.43 257.35,424.62 257.49,409.91 257.65,407.56 257.79,422.63 257.95,420.6 258.09,407.79 258.25,408.87 258.39,430.68 258.55,420.41 258.69,410.39 258.85,411.9 258.99,425.69 259.15,429 259.29,405.18 259.44,408.9 259.58,430.01 259.75,424.07 259.89,411.35 260.05,411.53 260.19,423.99 260.36,428.17 260.5,411.72 260.66,408.53 260.8,429.92 260.95,428.57 261.09,411.1 261.25,411.56 261.39,423.91 261.55,423.05 261.69,408.6 261.85,411.12 261.99,427.25 262.15,430.37 262.29,409.94 262.45,408.28 262.59,432.57 262.75,428.23 262.89,411.01 263.05,412.8 263.19,429.66 263.35,426.97 263.49,408.67 263.66,412.4 263.8,430.02 263.95,429.06 264.09,413.26 264.25,413.03 264.39,431.13 264.55,426.45 264.69,411.43 264.85,409.4 264.99,431.76 265.16,428.91 265.3,410.87 265.45,412.84 265.59,431.24 265.75,431.26 265.89,410.2 266.05,412.55 266.19,433.05 266.35,431.07 266.49,412.86 266.65,411.28 266.79,430.08 266.95,431.53 267.09,409.25 267.25,415.13 267.39,433.14 267.55,433.54 267.69,415.33 267.85,406.99 267.99,433.83 268.15,427.1 268.29,414.14 268.45,412.95 268.59,428.95 268.75,430.44 268.89,413.88 269.05,414.52 269.19,431.05 269.35,430.09 269.49,413.69 269.65,417.28 269.79,429.31 269.95,433.8 270.09,412.08 270.25,413.54 270.39,426.49 270.55,431.35 270.69,416.73 270.85,413.84 270.99,429.83 271.15,433.32 271.29,415.13 271.45,414.82 271.59,439.28 271.75,434.14 271.89,415.44 272.05,413.63 272.19,433.26 272.35,430.76 272.49,417.7 272.65,415.16 272.79,431.02 272.95,436.66 273.09,414.72 273.25,417.68 273.39,434.49 273.55,429.97 273.69,415.02 273.85,417.39 273.99,434.33 274.15,437.63 274.29,414.85 274.45,417.55 274.59,445.73 274.75,434.43 274.89,415.2 275.05,417.63 275.19,446.36 275.35,435.27 275.49,419.22 275.65,416.24 275.79,440.19 275.95,438.27 276.09,410.14 276.25,414.54 276.39,436.68 276.55,438 276.69,412.95 276.85,416.31 276.99,442.04 277.15,440.56 277.29,415.05 277.45,416.11 277.59,440.75 277.75,440.38 277.89,418.26 278.05,414.57 278.19,442.49 278.35,444.63 278.49,417.09 278.65,413.92 278.79,441.03 278.95,438.34 279.09,416.06 279.25,416.14 279.39,435.26 279.55,440.64 279.69,414.13 279.85,416.71 279.99,441.33 280.15,443.58 280.29,417.68 280.45,412 280.59,439.33 280.75,443.18 280.89,417.94 281.05,420.65 281.19,449.69 281.35,444.91 281.49,420.4 281.65,417.83 281.79,440.19 281.95,449.24 282.09,421.82 282.25,417.23 282.39,442.25 282.55,443.46 282.69,414.46 282.85,414.17 282.99,439.74 283.15,437.76 283.29,419.64 283.45,416.57 283.59,443.12 283.75,439.15 283.89,415.9 284.05,416.69 284.19,449.62 284.35,443.13 284.49,420.62 284.65,414.67 284.79,447.25 284.95,446.9 285.09,417.43 285.25,421.07 285.39,444.66 285.55,444.11 285.69,420.78 285.85,419.34 285.99,447.71 286.15,442.12 286.29,419.37 286.45,422.17 286.59,442.95 286.75,448.56 286.89,416.79 287.05,420.18 287.19,450.15 287.35,446.86 287.49,420.8 287.65,420.7 287.79,444.01 287.95,456.19 288.09,417.6 288.25,418.25 288.39,446.53 288.55,453.04 288.69,420.99 288.85,416.85 288.99,442.55 289.15,449.29 289.29,420.98 289.45,422.16 289.59,450.1 289.75,448.8 289.89,421.1 290.05,420.05 290.19,454.06 290.35,451.74 290.49,419.14 290.65,421.1 290.79,449.21 290.95,448.35 291.09,420.84 291.25,417.99 291.39,447.38 291.55,452 291.69,418.53 291.85,419.16 291.99,448.1 292.15,454.09 292.29,421.63 292.45,421.62 292.59,449.82 292.75,466.31 292.89,421.88 293.05,421.57 293.19,453.2 293.35,454.4 293.49,422.4 293.65,424.52 293.79,451.61 293.95,452.06 294.09,420.72 294.25,424.1 294.39,457.08 294.55,451.33 294.69,419.35 294.85,421.94 294.99,460.11 295.15,455.37 295.29,421.58 295.45,419.64 295.59,447.42 295.75,454.77 295.89,421.34 296.05,421.24 296.19,449.46 296.35,467.65 296.49,419.7 296.65,417.61 296.79,449.82 296.95,458.12 297.09,424 297.25,418.61 297.39,450.13 297.55,468.65 297.69,422.96 297.85,421.89 297.99,456.56 298.15,454.5 298.29,424.45 298.45,424.84 298.59,451.47 298.75,454.71 298.89,424.08 299.05,422.99 299.19,457.87 299.35,461.68 299.49,422.86 299.65,422.38 299.79,452.04 299.95,454.2 300.09,426.43 300.25,422.56 300.39,463.82 300.55,451.98 300.69,423.78 300.85,419.14 300.99,465.15 301.15,467.94 301.29,426.88 301.45,424.78 301.59,459.74 301.75,459.02 301.89,421.44 302.05,426.44 302.19,470.76 302.35,456.54 302.49,426.83 302.65,423.93 302.79,469.16 302.95,457.06 303.09,422.78 303.25,422.26 303.39,458.2 303.55,461.35 303.69,426.7 303.85,427.62 303.99,462.53 304.15,470.84 304.29,426.38 304.45,424.66 304.59,454.5 304.75,465.44 304.89,425.78 305.05,430.67 305.19,456.7 305.35,460.51 305.49,423.62 305.65,427.02 305.79,460.43 305.95,466.41 306.09,426.07 306.25,425.78 306.39,466.87 306.55,467.51 306.69,423.82 306.85,427.13 306.99,471.71 307.15,467.85 307.29,422.7 307.45,425.46 307.59,460.07 307.75,468.28 307.89,427.59 308.05,425.36 308.19,461.37 308.35,473.55 308.49,423.14 308.65,427.53 308.79,472.21 308.95,462.62 309.09,415.99 309.25,427.51 309.39,466.23 309.55,469.81 309.69,423.66 309.85,426.81 309.99,470.7 310.15,471.19 310.29,425.07 310.45,424.88 310.59,470.34 310.75,473.87 310.89,426.31 311.05,423.83 311.19,474.86 311.35,466.5 311.49,426.92 311.57,427.34 311.71,470.42 311.72,427.34 311.72,470.42" stroke="#008000" stroke-opacity="0.7" stroke-width="1.25" stroke-linecap="square"/>
<polyline points="40,309.65 60.45,307.16 72.41,308.87 80.9,311.8 87.48,315.18 92.86,317.75 97.41,320.19 101.35,322.43 104.82,324.43 107.93,326.39 110.74,327.91 113.31,329.31 115.67,330.61 117.86,331.83 119.89,332.97 121.8,334.05 123.58,335.07 125.27,336.04 126.87,336.95 128.38,337.83 129.82,338.66 131.19,339.46 132.5,340.23 133.76,340.96 134.96,341.67 136.12,342.35 137.23,343.01 138.31,343.65 139.34,344.26 140.34,344.86 141.31,345.43 142.24,345.99 143.15,346.53 144.03,347.06 144.89,347.57 145.72,348.07 146.53,348.56 147.31,349.03 148.08,349.49 148.83,349.94 149.56,350.38 150.27,350.81 150.96,351.23 151.64,351.64 152.3,352.04 152.95,352.43 153.59,352.82 154.21,353.19 154.82,353.56 155.41,353.92 156,354.28 156.57,354.63 157.13,354.97 157.68,355.3 158.22,355.63 158.75,355.96 159.28,356.28 159.79,356.59 160.29,356.9 160.79,357.2 161.28,357.5 161.76,357.79 162.23,358.08 162.69,358.36 163.15,358.64 163.6,358.92 164.05,359.19 164.48,359.45 164.91,359.72 165.34,359.98 165.76,360.23 166.17,360.49 166.58,360.74 166.98,360.98 167.37,361.22 167.76,361.46 168.15,361.7 168.53,361.93 168.91,362.16 169.28,362.39 169.64,362.62 170.01,362.84 170.36,363.06 170.72,363.28 171.07,363.49 171.41,363.7 171.75,363.91 172.09,364.12 172.42,364.32 172.75,364.53 173.08,364.73 173.4,364.92 173.72,365.12 174.03,365.31 174.35,365.51 174.66,365.7 174.96,365.88 175.26,366.07 175.56,366.25 175.86,366.44 176.15,366.62 176.44,366.79 176.73,366.97 177.02,367.15 177.3,367.32 177.58,367.49 177.86,367.66 178.13,367.83 178.4,368 178.67,368.16 178.94,368.33 179.2,368.49 179.47,368.65 179.73,368.81 179.98,368.97 180.24,369.13 180.49,369.28 180.74,369.44 180.99,369.59 181.24,369.74 181.48,369.89 181.73,370.04 181.97,370.19 182.21,370.34 182.44,370.49 182.68,370.63 182.91,370.77 183.14,370.92 183.37,371.06 183.6,371.2 183.83,371.34 184.05,371.47 184.27,371.61 184.49,371.75 184.71,371.88 184.93,372.02 185.15,372.15 185.36,372.28 185.57,372.41 185.79,372.54 186,372.67 186.2,372.8 186.41,372.93 186.62,373.05 186.82,373.18 187.02,373.3 187.23,373.43 187.43,373.55 187.62,373.67 187.82,373.79 188.02,373.92 188.21,374.03 188.41,374.15 188.6,374.27 188.79,374.39 188.98,374.51 189.17,374.62 189.35,374.74 189.54,374.85 189.73,374.97 189.91,375.08 190.09,375.19 190.27,375.3 190.45,375.41 190.63,375.52 190.81,375.63 190.99,375.74 191.17,375.85 191.34,375.96 191.51,376.07 191.69,376.17 191.86,376.28 192.03,376.38 192.2,376.49 192.37,376.59 192.54,376.69 192.7,376.8 192.87,376.9 193.04,377 193.2,377.1 193.36,377.2 193.53,377.3 193.69,377.4 193.85,377.5 194.01,377.6 194.17,377.7 194.33,377.79 194.48,377.89 194.64,377.99 194.8,378.08 194.95,378.18 195.1,378.27 195.26,378.37 195.41,378.46 195.56,378.55 195.71,378.64 195.86,378.74 196.01,378.83 196.16,378.92 196.31,379.01 196.46,379.1 196.6,379.19 196.75,379.28 196.89,379.37 197.04,379.46 197.18,379.55 197.32,379.63 197.47,379.72 197.61,379.81 197.75,379.89 197.89,379.98 198.03,380.07 198.17,380.15 198.31,380.24 198.44,380.32 198.58,380.4 198.72,380.49 198.85,380.57 198.99,380.65 199.12,380.74 199.25,380.82 199.39,380.9 199.52,380.98 199.65,381.06 199.78,381.14 199.91,381.22 200.04,381.3 200.17,381.38 200.3,381.46 200.43,381.54 200.56,381.62 200.69,381.7 200.81,381.77 200.94,381.85 201.07,381.93 201.19,382 201.32,382.08 201.44,382.16 201.56,382.23 201.69,382.31 201.81,382.38 201.93,382.46 202.05,382.53 202.18,382.61 202.3,382.68 202.42,382.75 202.54,382.83 202.66,382.9 202.77,382.97 202.89,383.05 203.01,383.12 203.13,383.19 203.24,383.26 203.36,383.33 203.48,383.4 203.59,383.47 203.71,383.54 203.82,383.61 203.94,383.68 204.05,383.75 204.16,383.82 204.28,383.89 204.39,383.96 204.5,384.03 204.61,384.1 204.72,384.16 204.83,384.23 204.94,384.3 205.05,384.37 205.16,384.43 205.27,384.5 205.38,384.57 205.49,384.63 205.6,384.7 205.7,384.76 205.81,384.83 205.92,384.89 206.02,384.96 206.13,385.02 206.24,385.09 206.34,385.15 206.45,385.22 206.55,385.28 206.65,385.34 206.76,385.41 206.86,385.47 206.96,385.53 207.07,385.6 207.17,385.66 207.27,385.72 207.37,385.78 207.47,385.84 207.57,385.91 207.67,385.97 207.78,386.03 207.87,386.09 207.97,386.15 208.07,386.21 208.17,386.27 208.27,386.33 208.37,386.39 208.47,386.45 208.56,386.51 208.66,386.57 208.76,386.63 208.86,386.69 208.95,386.74 209.05,386.8 209.14,386.86 209.24,386.92 209.33,386.98 209.43,387.04 209.52,387.09 209.62,387.15 209.71,387.21 209.8,387.26 209.9,387.32 209.99,387.38 210.08,387.43 210.17,387.49 210.27,387.55 210.36,387.6 210.45,387.66 210.54,387.71 210.63,387.77 210.72,387.82 210.81,387.88 210.9,387.93 210.99,387.99 211.08,388.04 211.17,388.1 211.26,388.15 211.35,388.2 211.44,388.26 211.53,388.31 211.61,388.37 211.7,388.42 211.79,388.47 211.88,388.52 211.96,388.58 212.05,388.63 212.14,388.68 212.22,388.74 212.31,388.79 212.39,388.84 212.48,388.89 212.56,388.94 212.65,388.99 212.73,389.05 212.82,389.1 212.9,389.15 212.99,389.2 213.07,389.25 213.15,389.3 213.24,389.35 213.32,389.4 213.4,389.45 213.49,389.5 213.57,389.55 213.65,389.6 213.73,389.65 213.81,389.7 213.89,389.75 213.98,389.8 214.06,389.85 214.14,389.9 214.22,389.95 214.3,390 214.38,390.04 214.46,390.09 214.54,390.14 214.62,390.19 214.7,390.24 214.78,390.28 214.85,390.33 214.93,390.38 215.01,390.43 215.09,390.47 215.17,390.52 215.24,390.57 215.32,390.62 215.4,390.66 215.48,390.71 215.55,390.76 215.63,390.8 215.71,390.85 215.78,390.9 215.86,390.94 215.94,390.99 216.01,391.03 216.09,391.08 216.16,391.12 216.24,391.17 216.31,391.22 216.39,391.26 216.46,391.31 216.54,391.35 216.61,391.4 216.68,391.44 216.76,391.49 216.83,391.53 218.62,392.61 220.3,393.62 221.89,394.58 223.4,395.49 224.84,396.35 226.21,397.17 227.52,397.95 228.77,398.7 229.97,399.42 231.13,400.1 232.24,400.76 233.31,401.4 234.34,402.01 235.34,402.6 236.31,403.17 237.24,403.72 238.15,404.25 239.03,404.77 239.88,405.27 240.71,405.75 241.52,406.23 242.31,406.68 243.07,407.13 243.82,407.56 244.55,407.99 245.26,408.4 245.95,408.8 246.63,409.19 247.29,409.57 247.94,409.95 248.57,410.31 249.19,410.67 249.8,411.01 250.4,411.36 250.98,411.69 251.55,412.02 252.11,412.34 252.67,412.65 253.21,412.96 253.74,413.26 254.26,413.56 254.77,413.85 255.28,414.13 255.77,414.41 256.26,414.69 256.74,414.96 257.21,415.22 257.67,415.48 258.13,415.74 258.58,415.99 259.02,416.24 259.46,416.49 259.89,416.73 260.32,416.96 260.73,417.2 261.15,417.43 261.55,417.65 261.95,417.87 262.35,418.09 262.74,418.31 263.13,418.52 263.51,418.73 263.88,418.94 264.25,419.15 264.62,419.35 264.98,419.55 265.34,419.74 265.69,419.94 266.04,420.13 266.39,420.32 266.73,420.5 267.06,420.69 267.4,420.87 267.73,421.05 268.05,421.23 268.37,421.4 268.69,421.58 269.01,421.75 269.32,421.92 269.63,422.08 269.94,422.25 270.24,422.41 270.54,422.57 270.83,422.73 271.13,422.89 271.42,423.05 271.71,423.2 271.99,423.36 272.27,423.51 272.55,423.66 272.83,423.81 273.1,423.95 273.38,424.1 273.64,424.24 273.91,424.39 274.18,424.53 274.44,424.67 274.7,424.8 274.96,424.94 275.21,425.08 275.46,425.21 275.72,425.34 275.96,425.48 276.21,425.61 276.46,425.74 276.7,425.86 276.94,425.99 277.18,426.12 277.41,426.24 277.65,426.37 277.88,426.49 278.11,426.61 278.34,426.73 278.57,426.85 278.8,426.97 279.02,427.08 279.24,427.2 279.47,427.32 279.68,427.43 279.9,427.54 280.12,427.66 280.33,427.77 280.55,427.88 280.76,427.99 280.97,428.1 281.18,428.21 281.38,428.31 281.59,428.42 281.79,428.53 281.99,428.63 282.2,428.73 282.4,428.84 282.59,428.94 282.79,429.04 282.99,429.14 283.18,429.24 283.38,429.34 283.57,429.44 283.76,429.54 283.95,429.64 284.14,429.73 284.32,429.83 284.51,429.92 284.7,430.02 284.88,430.11 285.06,430.21 285.24,430.3 285.42,430.39 285.6,430.48 285.78,430.57 285.96,430.66 286.13,430.75 286.31,430.84 286.48,430.93 286.66,431.02 286.83,431.1 287,431.19 287.17,431.27 287.34,431.36 287.51,431.44 287.67,431.53 287.84,431.61 288,431.7 288.17,431.78 288.33,431.86 288.5,431.94 288.66,432.02 288.82,432.1 288.98,432.18 289.14,432.26 289.29,432.34 289.45,432.42 289.61,432.5 289.76,432.58 289.92,432.65 290.07,432.73 290.23,432.81 290.38,432.88 290.53,432.96 290.68,433.03 290.83,433.11 290.98,433.18 291.13,433.26 291.28,433.33 291.42,433.4 291.57,433.47 291.72,433.55 291.86,433.62 292.01,433.69 292.15,433.76 292.29,433.83 292.43,433.9 292.58,433.97 292.72,434.04 292.86,434.11 293,434.18 293.13,434.24 293.27,434.31 293.41,434.38 293.55,434.45 293.68,434.51 293.82,434.58 293.95,434.65 294.09,434.71 294.22,434.78 294.36,434.84 294.49,434.91 294.62,434.97 294.75,435.03 294.88,435.1 295.01,435.16 295.14,435.22 295.27,435.29 295.4,435.35 295.53,435.41 295.65,435.47 295.78,435.54 295.91,435.6 296.03,435.66 296.16,435.72 296.28,435.78 296.41,435.84 296.53,435.9 296.65,435.96 296.78,436.02 296.9,436.07 297.02,436.13 297.14,436.19 297.26,436.25 297.38,436.31 297.5,436.36 297.62,436.42 297.74,436.48 297.86,436.54 297.98,436.59 298.09,436.65 298.21,436.7 298.33,436.76 298.44,436.81 298.56,436.87 298.67,436.92 298.79,436.98 298.9,437.03 299.02,437.09 299.13,437.14 299.24,437.19 299.35,437.25 299.47,437.3 299.58,437.35 299.69,437.41 299.8,437.46 299.91,437.51 300.02,437.56 300.13,437.62 300.24,437.67 300.35,437.72 300.45,437.77 300.56,437.82 300.67,437.87 300.78,437.92 300.88,437.97 300.99,438.02 301.1,438.07 301.2,438.12 301.31,438.17 301.41,438.22 301.52,438.27 301.62,438.32 301.72,438.37 301.83,438.41 301.93,438.46 302.03,438.51 302.13,438.56 302.24,438.61 302.34,438.65 302.44,438.7 302.54,438.75 302.64,438.79 302.74,438.84 302.84,438.89 302.94,438.93 303.04,438.98 303.14,439.03 303.24,439.07 303.34,439.12 303.43,439.16 303.53,439.21 303.63,439.25 303.72,439.3 303.82,439.34 303.92,439.39 304.01,439.43 304.11,439.47 304.2,439.52 304.3,439.56 304.39,439.61 304.49,439.65 304.58,439.69 304.68,439.74 304.77,439.78 304.86,439.82 304.96,439.87 305.05,439.91 305.14,439.95 305.23,439.99 305.32,440.03 305.42,440.08 305.51,440.12 305.6,440.16 305.69,440.2 305.78,440.24 305.87,440.28 305.96,440.32 306.05,440.37 306.14,440.41 306.23,440.45 306.32,440.49 306.4,440.53 306.49,440.57 306.58,440.61 306.67,440.65 306.75,440.69 306.84,440.73 306.93,440.77 307.02,440.81 307.1,440.85 307.19,440.88 307.27,440.92 307.36,440.96 307.44,441 307.53,441.04 307.61,441.08 307.7,441.12 307.78,441.15 307.87,441.19 307.95,441.23 308.04,441.27 308.12,441.3 308.2,441.34 308.29,441.38 308.37,441.42 308.45,441.45 308.53,441.49 308.61,441.53 308.7,441.56 308.78,441.6 308.86,441.64 308.94,441.67 309.02,441.71 309.1,441.75 309.18,441.78 309.26,441.82 309.34,441.85 309.42,441.89 309.5,441.93 309.58,441.96 309.66,442 309.74,442.03 309.82,442.07 309.9,442.1 309.98,442.14 310.05,442.17 310.13,442.21 310.21,442.24 310.29,442.28 310.36,442.31 310.44,442.34 310.52,442.38 310.6,442.41 310.67,442.45 310.75,442.48 310.82,442.51 310.9,442.55 310.98,442.58 311.05,442.61 311.13,442.65 311.2,442.68 311.28,442.71 311.35,442.75 311.43,442.78 311.5,442.81 311.58,442.85 311.65,442.88 311.72,442.91" stroke="#ff0000" stroke-opacity="0.6" stroke-width="1.8" stroke-dasharray="6.7 2.9" stroke-linecap="butt"/>
</g>
<path d="M40.5 481.6v3.4M107.5 481.6v3.4M175.5 481.6v3.4M243.5 481.6v3.4M311.5 481.6v3.4M26.5 465.5h-3.4M26.5 391.5h-3.4M26.5 316.5h-3.4" stroke="#444" stroke-width="1" fill="none"/>
<path d="M29.48 481.6v2.1M33.42 481.6v2.1M36.89 481.6v2.1M60.45 481.6v2.1M72.41 481.6v2.1M80.9 481.6v2.1M87.48 481.6v2.1M92.86 481.6v2.1M97.41 481.6v2.1M101.35 481.6v2.1M104.82 481.6v2.1M128.38 481.6v2.1M140.34 481.6v2.1M148.83 481.6v2.1M155.41 481.6v2.1M160.79 481.6v2.1M165.34 481.6v2.1M169.28 481.6v2.1M172.75 481.6v2.1M196.31 481.6v2.1M208.27 481.6v2.1M216.76 481.6v2.1M223.34 481.6v2.1M228.72 481.6v2.1M233.27 481.6v2.1M237.21 481.6v2.1M240.68 481.6v2.1M264.24 481.6v2.1M276.2 481.6v2.1M284.69 481.6v2.1M291.27 481.6v2.1M296.65 481.6v2.1M301.2 481.6v2.1M305.14 481.6v2.1M308.61 481.6v2.1M26.5 477.14h-2.1M26.5 472.82h-2.1M26.5 469.01h-2.1M26.5 443.17h-2.1M26.5 430.05h-2.1M26.5 420.75h-2.1M26.5 413.53h-2.1M26.5 407.63h-2.1M26.5 402.64h-2.1M26.5 398.32h-2.1M26.5 394.51h-2.1M26.5 368.67h-2.1M26.5 355.55h-2.1M26.5 346.25h-2.1M26.5 339.03h-2.1M26.5 333.13h-2.1M26.5 328.14h-2.1M26.5 323.82h-2.1M26.5 320.01h-2.1M26.5 294.17h-2.1" stroke="#555" stroke-width="0.8" fill="none"/>
<rect x="26.5" y="287.7" width="299.0" height="193.90000000000003" fill="none" stroke="#484848" stroke-width="1"/>
<text x="29.9" y="497.7" font-size="13.4" textLength="15.0" lengthAdjust="spacingAndGlyphs">10</text><text x="45.1" y="492.8" font-size="9.3" textLength="5.8" lengthAdjust="spacingAndGlyphs">0</text>
<text x="97.83" y="497.7" font-size="13.4" textLength="15.0" lengthAdjust="spacingAndGlyphs">10</text><text x="113.03" y="492.8" font-size="9.3" textLength="5.8" lengthAdjust="spacingAndGlyphs">1</text>
<text x="165.76" y="497.7" font-size="13.4" textLength="15.0" lengthAdjust="spacingAndGlyphs">10</text><text x="180.96" y="492.8" font-size="9.3" textLength="5.8" lengthAdjust="spacingAndGlyphs">2</text>
<text x="233.69" y="497.7" font-size="13.4" textLength="15.0" lengthAdjust="spacingAndGlyphs">10</text><text x="248.89" y="492.8" font-size="9.3" textLength="5.8" lengthAdjust="spacingAndGlyphs">3</text>
<text x="301.62" y="497.7" font-size="13.4" textLength="15.0" lengthAdjust="spacingAndGlyphs">10</text><text x="316.82" y="492.8" font-size="9.3" textLength="5.8" lengthAdjust="spacingAndGlyphs">4</text>
<text x="-0.4" y="470.3" font-size="13.4" textLength="15.0" lengthAdjust="spacingAndGlyphs">10</text><text x="14.8" y="465.4" font-size="9.3" textLength="5.8" lengthAdjust="spacingAndGlyphs">0</text>
<text x="-0.4" y="395.8" font-size="13.4" textLength="15.0" lengthAdjust="spacingAndGlyphs">10</text><text x="14.8" y="390.9" font-size="9.3" textLength="5.8" lengthAdjust="spacingAndGlyphs">1</text>
<text x="-0.4" y="321.3" font-size="13.4" textLength="15.0" lengthAdjust="spacingAndGlyphs">10</text><text x="14.8" y="316.4" font-size="9.3" textLength="5.8" lengthAdjust="spacingAndGlyphs">2</text>
<text x="177" y="516" font-size="13.4" font-style="italic" text-anchor="middle">i</text>
<rect x="201.4" y="293.7" width="118" height="44" rx="2.4" fill="#fff" fill-opacity="0.8" stroke="#ccc" stroke-width="1"/>
<path d="M205 305.4h25.6" stroke="#008000" stroke-opacity="0.7" stroke-width="1.25"/>
<path d="M205.8 325.4h24" stroke="#ff0000" stroke-opacity="0.6" stroke-width="1.8" stroke-dasharray="6.7 2.9"/>
<text x="240.1" y="309.7" font-size="12.6" textLength="60.6" lengthAdjust="spacingAndGlyphs">measured</text>
<text x="304.2" y="309.7" font-size="12.6" font-style="italic">b</text><path d="M304.7 299.2h7.9" stroke="#000" stroke-width="0.8"/><text x="311.5" y="311.9" font-size="8.8" font-style="italic">i</text>
<text x="240.1" y="329.6" font-size="12.6" textLength="57.4" lengthAdjust="spacingAndGlyphs">analytical</text>
<text x="302" y="329.6" font-size="12.6" font-style="italic">b</text><path d="M302.5 319.1h7.9" stroke="#000" stroke-width="0.8"/><text x="309.3" y="331.8" font-size="8.8" font-style="italic">i</text>
<clipPath id="clipd"><rect x="385.5" y="289.5" width="299.0" height="194.0"/></clipPath>
<g clip-path="url(#clipd)" fill="none" stroke-linejoin="round">
<polyline points="399.2,298 419.65,301.1 431.61,298.5 440.1,300.41 446.68,302.46 452.06,303.88 456.61,302.46 460.55,307.89 464.02,310.95 467.13,313.23 469.94,313.75 472.51,311.86 474.87,311.44 477.06,312 479.09,317.17 481,314.88 482.78,320.66 484.47,327.25 486.07,320.57 487.58,324.24 489.02,321.04 490.39,317.33 491.7,325.24 492.96,321.69 494.16,321.12 495.32,320.48 496.43,330.3 497.51,327.94 498.54,316.68 499.54,328.76 500.51,328.05 501.44,326.44 502.35,332.43 503.23,331.83 504.09,322.81 504.92,325.04 505.73,336.79 506.51,331.45 507.28,338.39 508.03,339.94 508.76,333.1 509.47,327.54 510.16,334.31 510.84,328.68 511.5,339.17 512.15,334.65 512.79,335.27 513.41,335.65 514.02,332.58 514.61,334.53 515.2,339.13 515.77,342.54 516.33,339.81 516.88,338.27 517.42,340.45 517.95,344.35 518.48,345.53 518.99,336.56 519.49,338.91 519.99,342.12 520.48,338.88 520.96,339 521.43,341.82 521.89,342.81 522.35,337.64 522.8,338.96 523.25,337.3 523.68,339 524.11,341.94 524.54,344.62 524.96,344.55 525.37,345.65 525.78,343.75 526.18,343.48 526.57,340.41 526.96,340.07 527.35,345.09 527.73,343.86 528.11,349.49 528.48,348.02 528.84,349.68 529.21,345.8 529.56,348.28 529.92,349.33 530.27,347.08 530.61,353.81 530.95,347.76 531.29,346.01 531.62,343.54 531.95,352.16 532.28,349.79 532.6,355.96 532.92,344.11 533.23,349.69 533.55,348.4 533.86,354.86 534.16,350.53 534.46,351.99 534.76,354.39 535.06,354.48 535.35,353.87 535.64,353.79 535.93,357.38 536.22,346.43 536.5,351.47 536.78,351.16 537.06,351.41 537.33,352.91 537.6,352.6 537.87,350.52 538.14,353.69 538.4,348.32 538.67,353.88 538.93,349.08 539.18,356.8 539.44,352.61 539.69,351.27 539.94,349.18 540.19,349.25 540.44,357.92 540.68,356.87 540.93,348.98 541.17,356.18 541.41,360.79 541.64,351.02 541.88,353.05 542.11,360.03 542.34,357.81 542.57,351.04 542.8,357.6 543.03,358.17 543.25,357.79 543.47,351.57 543.69,363.14 543.91,355.52 544.13,356.72 544.35,355.56 544.56,354.72 544.77,357.53 544.99,355.57 545.2,356.26 545.4,352.78 545.61,367.67 545.82,358.8 546.02,358.02 546.22,363.81 546.43,353.37 546.63,356.6 546.82,365.62 547.02,359.83 547.22,356.22 547.41,358.61 547.61,362.01 547.8,356.89 547.99,358.1 548.18,363.07 548.37,360.42 548.55,354.76 548.74,355.28 548.93,363.71 549.11,362.5 549.29,354.84 549.47,357.93 549.65,360.15 549.83,361.69 550.01,359.79 550.19,357.13 550.37,371.14 550.54,357.58 550.71,364.78 550.89,366.65 551.06,363.96 551.23,365.94 551.4,365.71 551.57,361.44 551.74,363.48 551.9,358.02 552.07,368.64 552.24,358.95 552.4,367.34 552.56,361.63 552.73,363.77 552.89,358.81 553.05,368.11 553.21,362.4 553.37,356.84 553.53,357.96 553.68,364.11 553.84,360.05 554,358.93 554.15,361.19 554.3,358.66 554.46,359.5 554.61,374.16 554.76,361.04 554.91,351.08 555.06,365.39 555.21,365.21 555.36,363.81 555.51,367.61 555.66,365.62 555.8,364.75 555.95,356.76 556.09,365.57 556.24,362.29 556.38,365.58 556.52,369.04 556.67,367.88 556.81,370.19 556.95,359.69 557.09,366.32 557.23,372.22 557.37,365.52 557.51,357.58 557.64,364.53 557.78,365.91 557.92,364.64 558.05,367.7 558.19,370.89 558.32,360.84 558.45,384.76 558.59,368.78 558.72,370.67 558.85,367.5 558.98,370.11 559.11,362.07 559.24,360.5 559.37,366.26 559.5,373.2 559.63,370.6 559.76,368.87 559.89,371.62 560.01,373.51 560.14,360.43 560.27,363.61 560.39,372.4 560.52,372.03 560.64,367.58 560.76,371.16 560.89,365.55 561.01,364.74 561.13,368.02 561.25,372.86 561.38,369.87 561.5,377.02 561.62,370.32 561.74,361.28 561.86,371.45 561.97,365.88 562.09,363.82 562.21,362.33 562.33,375.97 562.44,370.15 562.56,372.03 562.68,363.59 562.79,364.75 562.91,374.94 563.02,372.34 563.14,368.06 563.25,361.32 563.36,371.63 563.48,364.66 563.59,374.28 563.7,376.53 563.81,366.54 563.92,374.23 564.03,378.81 564.14,365 564.25,367.75 564.36,377.44 564.47,366.85 564.58,368.75 564.69,368.28 564.8,376.54 564.9,373.07 565.01,383.43 565.12,383.54 565.22,367.58 565.33,373.68 565.44,370.37 565.54,372.56 565.65,374.24 565.75,374.25 565.85,369.39 565.96,372.96 566.06,380.52 566.16,366.89 566.27,365.85 566.37,368.53 566.47,365.61 566.57,371.26 566.67,372.09 566.77,367.24 566.87,369.86 566.98,379.07 567.07,373.39 567.17,372.13 567.27,363.37 567.37,372.47 567.47,376.96 567.65,373.69 567.79,378.9 567.98,382.68 568.12,374.79 568.27,371.74 568.41,382.39 568.56,375.19 568.7,370.02 568.84,376.34 568.98,377.28 569.12,376.07 569.26,372.02 569.44,370.53 569.58,373.54 569.76,376.59 569.9,370.38 570.03,376.25 570.17,381.75 570.35,380.81 570.49,369.06 570.66,368.61 570.8,373.08 570.96,380.2 571.1,371.79 571.27,363.82 571.41,376.57 571.57,379.79 571.71,371.94 571.86,369.03 572,380.29 572.16,376.18 572.3,366.08 572.45,375.1 572.59,382.18 572.74,381.66 572.88,373.45 573.06,373.05 573.2,382.54 573.35,383.82 573.49,378.48 573.63,375.21 573.77,383.42 573.94,382.53 574.08,375.06 574.26,368.22 574.4,383.72 574.57,383.9 574.71,374.42 574.87,375.53 575.01,386.86 575.18,387.7 575.32,374.19 575.48,370.88 575.62,383.87 575.78,385.22 575.92,372.55 576.07,370.36 576.21,382.32 576.36,384.3 576.5,374.29 576.65,374.36 576.79,381.16 576.94,384.97 577.08,375.29 577.26,375.02 577.4,390.11 577.57,385.87 577.71,376.48 577.85,374.79 577.99,390.44 578.16,394.88 578.3,379.83 578.46,375.44 578.6,385.65 578.73,384.38 578.87,373.86 579.03,373.79 579.17,391.83 579.36,389.77 579.5,373.47 579.66,369.9 579.8,391.02 579.95,383.95 580.09,376.31 580.27,378.74 580.41,387.66 580.55,389.78 580.69,375.99 580.83,377.02 580.97,396.69 581.14,387.85 581.28,376.05 581.45,375.07 581.59,393.99 581.75,387.31 581.89,379.22 582.05,379.68 582.19,393.74 582.35,395.89 582.49,373.45 582.65,374.62 582.79,392.64 582.94,388.87 583.08,376.82 583.23,379.12 583.37,387.36 583.54,398.92 583.68,379.78 583.85,376.33 583.99,393.85 584.13,401.04 584.27,384.18 584.44,380.98 584.58,391.99 584.74,388.38 584.88,381.36 585.04,377.01 585.18,391.98 585.36,398.03 585.5,376.85 585.66,378.94 585.8,399.27 585.95,395.15 586.09,375.58 586.26,382.03 586.4,398.88 586.57,405.08 586.71,380.97 586.85,380.77 586.99,390.48 587.13,393.49 587.27,379.81 587.43,379.61 587.57,394.13 587.75,407 587.89,379.62 588.07,376.92 588.21,393.7 588.36,401.25 588.5,382.5 588.65,384.36 588.79,399.79 588.94,393.15 589.08,381.24 589.24,380.71 589.38,393.52 589.55,388.24 589.69,377.39 589.85,383.84 589.99,394.54 590.14,398.35 590.28,383.12 590.44,379.97 590.58,392.3 590.75,397.18 590.89,380.39 591.06,382.21 591.2,399.45 591.37,396.88 591.51,380.25 591.65,384.72 591.79,392.31 591.93,393.45 592.07,381.83 592.25,386.68 592.39,403.84 592.57,394.13 592.71,376.38 592.86,384.77 593,404.06 593.15,401.21 593.29,383.28 593.45,383.75 593.59,393.17 593.76,412.28 593.9,383.63 594.06,380.32 594.2,404.26 594.35,399.93 594.49,386.74 594.65,378.74 594.79,401.21 594.96,404.55 595.1,383.64 595.25,388.05 595.39,407.3 595.53,403.03 595.67,385.7 595.83,385.55 595.97,403.13 596.13,403.15 596.27,388.44 596.45,388.89 596.59,399.37 596.76,393.83 596.9,386.02 597.05,383.51 597.19,397.81 597.35,397.06 597.49,387.18 597.65,389.55 597.79,415.64 597.95,411.58 598.09,382.34 598.25,387.89 598.39,400.41 598.54,403.2 598.68,384.85 598.85,382.44 598.99,412.45 599.15,407.22 599.29,389.18 599.45,387.78 599.59,406.89 599.75,411.83 599.89,392.32 600.04,390.94 600.18,406.87 600.35,397.54 600.49,388.58 600.65,390.97 600.79,408.45 600.95,402.41 601.09,385.27 601.25,390.56 601.39,405.7 601.55,405.65 601.69,389.66 601.85,391.04 601.99,406.64 602.16,401.1 602.3,393.2 602.46,394.49 602.6,413.66 602.76,427.84 602.9,388.8 603.05,391.64 603.19,402.52 603.34,402.49 603.48,386.16 603.65,388.48 603.79,407.99 603.95,409.31 604.09,387.56 604.25,390.51 604.39,408.28 604.56,417.18 604.7,389.89 604.86,389.59 605,407.27 605.15,409.37 605.29,391.82 605.45,394.24 605.59,420.95 605.76,415.66 605.9,393.9 606.05,390.55 606.19,411.52 606.34,413.24 606.48,388.04 606.64,390.66 606.78,407.88 606.95,407.5 607.09,389.14 607.25,392.13 607.39,410.65 607.54,408 607.68,395.77 607.84,394.89 607.98,414.23 608.15,424.75 608.29,393.37 608.46,393 608.6,407.76 608.75,409 608.89,391.53 609.05,393.91 609.19,412.62 609.35,411.86 609.49,392.92 609.64,391.72 609.78,416.5 609.95,412.07 610.09,394.12 610.25,389.77 610.39,413.86 610.55,411.69 610.69,393.13 610.85,389.04 610.99,412.81 611.16,409.18 611.3,394.92 611.45,396.94 611.59,416.72 611.75,414.92 611.89,396.5 612.05,395.45 612.19,414.02 612.35,422.19 612.49,394.27 612.65,396.36 612.79,418.44 612.95,419.31 613.09,396.38 613.25,397.34 613.39,413.99 613.55,418.13 613.69,396.88 613.85,395.65 613.99,416.51 614.14,420.89 614.28,401.7 614.45,396.82 614.59,420.41 614.74,418.96 614.88,396.82 615.05,395.57 615.19,417.24 615.35,410.14 615.49,393.13 615.65,400.82 615.79,419.03 615.95,419.72 616.09,397.83 616.26,395.28 616.4,411.65 616.55,416.09 616.69,400.23 616.85,404.19 616.99,412.65 617.15,417.22 617.29,395.01 617.45,400.49 617.59,414.4 617.75,417.45 617.89,396.65 618.05,397.84 618.19,418.46 618.35,419.1 618.49,399.87 618.64,399.29 618.78,413.92 618.95,424.15 619.09,397.54 619.25,401.41 619.39,423.06 619.56,422.16 619.7,393.93 619.86,403.65 620,432.02 620.15,422.69 620.29,396.82 620.45,403.61 620.59,417.19 620.75,420.34 620.89,402.7 621.05,404.99 621.19,426.75 621.35,424.94 621.49,404.3 621.65,400.19 621.79,427.59 621.95,433.1 622.09,400.31 622.25,404.18 622.39,424.61 622.55,420.2 622.69,402.22 622.86,402.9 623,421.45 623.15,430.6 623.29,399.41 623.45,405.42 623.59,432.71 623.75,422.2 623.89,402.51 624.05,400.96 624.19,425.32 624.36,425.61 624.5,400.22 624.65,405.17 624.79,420.61 624.95,426.18 625.09,401.41 625.25,399.79 625.39,421.85 625.55,423.85 625.69,400.14 625.85,403.39 625.99,425.21 626.15,422.02 626.29,406.05 626.45,400.48 626.59,435.8 626.75,422.8 626.89,403.46 627.05,405.14 627.19,425.89 627.35,421.6 627.49,401.37 627.65,400.08 627.79,428.49 627.95,426.59 628.09,401.44 628.25,403.33 628.39,425.2 628.55,427.53 628.69,408.03 628.85,399.62 628.99,424.78 629.15,428.8 629.29,404.75 629.45,404.98 629.59,439.85 629.75,423.65 629.89,403.65 630.05,403.38 630.19,427.55 630.35,432.22 630.49,404.05 630.65,406.45 630.79,428.67 630.95,426.26 631.09,405.8 631.25,406.02 631.39,433.53 631.55,443.02 631.69,405.37 631.85,402.48 631.99,430.03 632.15,438.72 632.29,404.13 632.45,404.07 632.59,436.19 632.75,429.4 632.89,397.77 633.05,408.66 633.19,427.75 633.35,430.04 633.49,404.33 633.65,403.14 633.79,436.39 633.95,429.42 634.09,407.61 634.25,406.13 634.39,435.29 634.55,429.39 634.69,406.51 634.85,409.16 634.99,433.7 635.15,455.93 635.29,409.06 635.45,406.4 635.59,432.99 635.75,434.93 635.89,406.69 636.05,406.99 636.19,436.82 636.35,430.98 636.49,408.49 636.65,409.43 636.79,434.96 636.95,432.91 637.09,402.93 637.25,404.11 637.39,441.07 637.55,428.65 637.69,407.82 637.85,405.69 637.99,437.88 638.15,437.69 638.29,411.22 638.45,406.2 638.59,438.17 638.75,441.99 638.89,412.06 639.05,408.8 639.19,431.27 639.35,440.91 639.49,407.46 639.65,406.69 639.79,434.4 639.95,450.04 640.09,408.06 640.25,406.9 640.39,434.62 640.55,445.81 640.69,406.27 640.85,408.1 640.99,438.37 641.15,436.79 641.29,413.26 641.45,413.49 641.59,452.9 641.75,431.52 641.89,407.54 642.05,411.39 642.19,445.3 642.35,445.91 642.49,410.95 642.65,411.25 642.79,433.78 642.95,441.9 643.09,411.49 643.25,410.02 643.39,441.19 643.55,446.72 643.69,408.86 643.85,410.52 643.99,437.14 644.15,438.09 644.29,405.83 644.45,415.17 644.59,439.92 644.75,438.77 644.89,411.12 645.05,406.55 645.19,451.08 645.35,443.2 645.49,410.14 645.65,411.64 645.79,455.22 645.95,443.16 646.09,413.1 646.25,411.56 646.39,439.4 646.55,440.4 646.69,409.63 646.85,408.3 646.99,442.39 647.15,439.07 647.29,413.47 647.45,411.33 647.59,454.21 647.75,444.98 647.89,412.73 648.05,414.63 648.19,444.81 648.35,455.04 648.49,412.43 648.65,415.16 648.79,450.73 648.95,444.8 649.09,413.58 649.25,414.48 649.39,441.67 649.55,451.15 649.69,410.48 649.85,414.49 649.99,463.63 650.15,450.7 650.29,408.18 650.45,414.22 650.59,450.3 650.75,449.02 650.89,411.7 651.05,416.16 651.19,459.32 651.35,446.09 651.49,411.68 651.65,413.17 651.79,444.14 651.95,467.37 652.09,415.69 652.25,411.44 652.39,448.75 652.55,445.11 652.69,411.93 652.85,416.08 652.99,451.21 653.15,450.46 653.29,417.72 653.45,409.42 653.59,466.08 653.75,446.18 653.89,413.99 654.05,415.23 654.19,450.11 654.35,453.17 654.49,414.65 654.65,416.47 654.79,454.94 654.95,445.51 655.09,414.54 655.25,413.74 655.39,455.82 655.55,446.32 655.69,411.64 655.85,415.54 655.99,452.72 656.15,455.61 656.29,415.76 656.45,415.89 656.59,449.15 656.75,456.66 656.89,410.91 657.05,413.73 657.19,470.21 657.35,457.46 657.49,415.4 657.65,415.31 657.79,460.48 657.95,452.01 658.09,414.97 658.25,416.76 658.39,459.79 658.55,456.55 658.69,416.02 658.85,415.81 658.99,458.97 659.15,452.4 659.29,415.62 659.45,417 659.59,461.88 659.75,454.33 659.89,413.45 660.05,416.41 660.19,457.67 660.35,454.47 660.49,412.73 660.65,415.3 660.79,457.97 660.95,459.24 661.09,419.43 661.25,414.64 661.39,455.52 661.55,468.59 661.69,414.49 661.85,413.52 661.99,457.2 662.15,461.34 662.29,417.71 662.45,415.66 662.59,473.24 662.75,456.96 662.89,415.02 663.05,417.42 663.19,458.89 663.35,457.08 663.49,413.08 663.65,417.35 663.79,473.03 663.95,457.19 664.09,416.88 664.25,417.77 664.39,474.31 664.55,471.02 664.69,420.36 664.85,417.92 664.99,474.52 665.15,462.92 665.29,419.3 665.45,421.39 665.59,463.81 665.75,462.43 665.89,413.74 666.05,419.95 666.19,475.29 666.35,475.4 666.49,415.81 666.65,416.76 666.79,460.15 666.95,460.03 667.09,414.26 667.25,417.47 667.39,458.8 667.55,455.49 667.69,418.23 667.85,419.58 667.99,476.18 668.15,466.87 668.29,419.97 668.45,421.18 668.59,463.44 668.75,468.19 668.89,420.14 669.05,416.93 669.19,468.65 669.35,476.96 669.49,418.22 669.65,418.8 669.79,466.39 669.95,473.01 670.09,418.31 670.25,419.13 670.39,466.91 670.55,461.89 670.69,414.12 670.77,416.44 670.91,465.21 670.92,416.44 670.92,465.21" stroke="#008000" stroke-opacity="0.7" stroke-width="1.25" stroke-linecap="square"/>
<polyline points="431.46,883.5 431.61,345.12 440.1,322.36 446.68,315.92 452.06,313.55 456.61,312.78 460.55,312.75 464.02,313.11 467.13,313.68 469.94,314.37 472.51,315.12 474.87,315.91 477.06,316.71 479.09,317.5 481,318.29 482.78,319.07 484.47,319.83 486.07,320.58 487.58,321.31 489.02,322.02 490.39,322.71 491.7,323.39 492.96,324.05 494.16,324.69 495.32,325.31 496.43,325.92 497.51,326.52 498.54,327.1 499.54,327.66 500.51,328.21 501.44,328.75 502.35,329.28 503.23,329.8 504.09,330.3 504.92,330.79 505.73,331.28 506.51,331.75 507.28,332.21 508.03,332.67 508.76,333.11 509.47,333.55 510.16,333.97 510.84,334.39 511.5,334.8 512.15,335.21 512.79,335.6 513.41,335.99 514.02,336.38 514.61,336.75 515.2,337.12 515.77,337.49 516.33,337.84 516.88,338.2 517.42,338.54 517.95,338.88 518.48,339.22 518.99,339.55 519.49,339.88 519.99,340.2 520.48,340.51 520.96,340.82 521.43,341.13 521.89,341.44 522.35,341.73 522.8,342.03 523.25,342.32 523.68,342.61 524.11,342.89 524.54,343.17 524.96,343.45 525.37,343.72 525.78,343.99 526.18,344.25 526.57,344.52 526.96,344.78 527.35,345.03 527.73,345.29 528.11,345.54 528.48,345.79 528.84,346.03 529.21,346.27 529.56,346.51 529.92,346.75 530.27,346.98 530.61,347.21 530.95,347.44 531.29,347.67 531.62,347.9 531.95,348.12 532.28,348.34 532.6,348.55 532.92,348.77 533.23,348.98 533.55,349.2 533.86,349.4 534.16,349.61 534.46,349.82 534.76,350.02 535.06,350.22 535.35,350.42 535.64,350.62 535.93,350.81 536.22,351.01 536.5,351.2 536.78,351.39 537.06,351.58 537.33,351.77 537.6,351.95 537.87,352.14 538.14,352.32 538.4,352.5 538.67,352.68 538.93,352.86 539.18,353.04 539.44,353.21 539.69,353.38 539.94,353.56 540.19,353.73 540.44,353.9 540.68,354.07 540.93,354.23 541.17,354.4 541.41,354.56 541.64,354.72 541.88,354.89 542.11,355.05 542.34,355.21 542.57,355.37 542.8,355.52 543.03,355.68 543.25,355.83 543.47,355.99 543.69,356.14 543.91,356.29 544.13,356.44 544.35,356.59 544.56,356.74 544.77,356.89 544.99,357.03 545.2,357.18 545.4,357.32 545.61,357.47 545.82,357.61 546.02,357.75 546.22,357.89 546.43,358.03 546.63,358.17 546.82,358.31 547.02,358.44 547.22,358.58 547.41,358.71 547.61,358.85 547.8,358.98 547.99,359.11 548.18,359.25 548.37,359.38 548.55,359.51 548.74,359.64 548.93,359.77 549.11,359.89 549.29,360.02 549.47,360.15 549.65,360.27 549.83,360.4 550.01,360.52 550.19,360.64 550.37,360.77 550.54,360.89 550.71,361.01 550.89,361.13 551.06,361.25 551.23,361.37 551.4,361.49 551.57,361.61 551.74,361.72 551.9,361.84 552.07,361.96 552.24,362.07 552.4,362.19 552.56,362.3 552.73,362.41 552.89,362.53 553.05,362.64 553.21,362.75 553.37,362.86 553.53,362.97 553.68,363.08 553.84,363.19 554,363.3 554.15,363.41 554.3,363.52 554.46,363.62 554.61,363.73 554.76,363.84 554.91,363.94 555.06,364.05 555.21,364.15 555.36,364.26 555.51,364.36 555.66,364.46 555.8,364.57 555.95,364.67 556.09,364.77 556.24,364.87 556.38,364.97 556.52,365.07 556.67,365.17 556.81,365.27 556.95,365.37 557.09,365.47 557.23,365.56 557.37,365.66 557.51,365.76 557.64,365.85 557.78,365.95 557.92,366.05 558.05,366.14 558.19,366.24 558.32,366.33 558.45,366.42 558.59,366.52 558.72,366.61 558.85,366.7 558.98,366.79 559.11,366.89 559.24,366.98 559.37,367.07 559.5,367.16 559.63,367.25 559.76,367.34 559.89,367.43 560.01,367.52 560.14,367.61 560.27,367.69 560.39,367.78 560.52,367.87 560.64,367.96 560.76,368.04 560.89,368.13 561.01,368.22 561.13,368.3 561.25,368.39 561.38,368.47 561.5,368.56 561.62,368.64 561.74,368.73 561.86,368.81 561.97,368.89 562.09,368.98 562.21,369.06 562.33,369.14 562.44,369.22 562.56,369.3 562.68,369.39 562.79,369.47 562.91,369.55 563.02,369.63 563.14,369.71 563.25,369.79 563.36,369.87 563.48,369.95 563.59,370.03 563.7,370.11 563.81,370.18 563.92,370.26 564.03,370.34 564.14,370.42 564.25,370.49 564.36,370.57 564.47,370.65 564.58,370.72 564.69,370.8 564.8,370.88 564.9,370.95 565.01,371.03 565.12,371.1 565.22,371.18 565.33,371.25 565.44,371.33 565.54,371.4 565.65,371.47 565.75,371.55 565.85,371.62 565.96,371.69 566.06,371.76 566.16,371.84 566.27,371.91 566.37,371.98 566.47,372.05 566.57,372.12 566.67,372.2 566.77,372.27 566.87,372.34 566.98,372.41 567.07,372.48 567.17,372.55 567.27,372.62 567.37,372.69 567.47,372.76 567.57,372.83 567.67,372.89 567.76,372.96 567.86,373.03 567.96,373.1 568.06,373.17 568.15,373.23 568.25,373.3 568.34,373.37 568.44,373.44 568.53,373.5 568.63,373.57 568.72,373.64 568.82,373.7 568.91,373.77 569,373.83 569.1,373.9 569.19,373.96 569.28,374.03 569.37,374.09 569.47,374.16 569.56,374.22 569.65,374.29 569.74,374.35 569.83,374.42 569.92,374.48 570.01,374.54 570.1,374.61 570.19,374.67 570.28,374.73 570.37,374.8 570.46,374.86 570.55,374.92 570.64,374.98 570.73,375.04 570.81,375.11 570.9,375.17 570.99,375.23 571.08,375.29 571.16,375.35 571.25,375.41 571.34,375.47 571.42,375.53 571.51,375.59 571.59,375.65 571.68,375.71 571.76,375.77 571.85,375.83 571.93,375.89 572.02,375.95 572.1,376.01 572.19,376.07 572.27,376.13 572.35,376.19 572.44,376.25 572.52,376.31 572.6,376.36 572.69,376.42 572.77,376.48 572.85,376.54 572.93,376.59 573.01,376.65 573.09,376.71 573.18,376.77 573.26,376.82 573.34,376.88 573.42,376.94 573.5,376.99 573.58,377.05 573.66,377.11 573.74,377.16 573.82,377.22 573.9,377.27 573.98,377.33 574.05,377.38 574.13,377.44 574.21,377.49 574.29,377.55 574.37,377.6 574.44,377.66 574.52,377.71 574.6,377.77 574.68,377.82 574.75,377.88 574.83,377.93 574.91,377.98 574.98,378.04 575.06,378.09 575.14,378.14 575.21,378.2 575.29,378.25 575.36,378.3 575.44,378.36 575.51,378.41 575.59,378.46 575.66,378.51 575.74,378.57 575.81,378.62 575.88,378.67 575.96,378.72 576.03,378.77 577.82,380.03 579.5,381.2 581.09,382.32 582.6,383.38 584.04,384.38 585.41,385.34 586.72,386.25 587.97,387.13 589.17,387.96 590.33,388.77 591.44,389.54 592.51,390.28 593.54,391 594.54,391.69 595.51,392.36 596.44,393 597.35,393.63 598.23,394.23 599.08,394.82 599.91,395.39 600.72,395.94 601.51,396.48 602.27,397.01 603.02,397.51 603.75,398.01 604.46,398.5 605.15,398.97 605.83,399.43 606.49,399.88 607.14,400.32 607.77,400.75 608.39,401.17 609,401.58 609.6,401.98 610.18,402.37 610.75,402.76 611.31,403.13 611.87,403.5 612.41,403.87 612.94,404.22 613.46,404.57 613.97,404.91 614.48,405.25 614.97,405.58 615.46,405.91 615.94,406.22 616.41,406.54 616.87,406.85 617.33,407.15 617.78,407.45 618.22,407.74 618.66,408.03 619.09,408.31 619.52,408.59 619.93,408.87 620.35,409.14 620.75,409.41 621.15,409.67 621.55,409.93 621.94,410.18 622.33,410.44 622.71,410.69 623.08,410.93 623.45,411.17 623.82,411.41 624.18,411.65 624.54,411.88 624.89,412.11 625.24,412.33 625.59,412.56 625.93,412.78 626.26,413 626.6,413.21 626.93,413.42 627.25,413.63 627.57,413.84 627.89,414.05 628.21,414.25 628.52,414.45 628.83,414.65 629.14,414.84 629.44,415.04 629.74,415.23 630.03,415.42 630.33,415.61 630.62,415.79 630.91,415.97 631.19,416.15 631.47,416.33 631.75,416.51 632.03,416.69 632.3,416.86 632.58,417.03 632.84,417.2 633.11,417.37 633.38,417.54 633.64,417.71 633.9,417.87 634.16,418.03 634.41,418.19 634.66,418.35 634.92,418.51 635.16,418.66 635.41,418.82 635.66,418.97 635.9,419.12 636.14,419.28 636.38,419.42 636.61,419.57 636.85,419.72 637.08,419.86 637.31,420.01 637.54,420.15 637.77,420.29 638,420.43 638.22,420.57 638.44,420.71 638.67,420.85 638.88,420.98 639.1,421.12 639.32,421.25 639.53,421.38 639.75,421.51 639.96,421.64 640.17,421.77 640.38,421.9 640.58,422.03 640.79,422.16 640.99,422.28 641.19,422.4 641.4,422.53 641.6,422.65 641.79,422.77 641.99,422.89 642.19,423.01 642.38,423.13 642.58,423.25 642.77,423.37 642.96,423.48 643.15,423.6 643.34,423.71 643.52,423.83 643.71,423.94 643.9,424.05 644.08,424.16 644.26,424.27 644.44,424.38 644.62,424.49 644.8,424.6 644.98,424.71 645.16,424.81 645.33,424.92 645.51,425.03 645.68,425.13 645.86,425.23 646.03,425.34 646.2,425.44 646.37,425.54 646.54,425.64 646.71,425.74 646.87,425.84 647.04,425.94 647.2,426.04 647.37,426.14 647.53,426.24 647.7,426.33 647.86,426.43 648.02,426.53 648.18,426.62 648.34,426.72 648.49,426.81 648.65,426.9 648.81,427 648.96,427.09 649.12,427.18 649.27,427.27 649.43,427.36 649.58,427.45 649.73,427.54 649.88,427.63 650.03,427.72 650.18,427.81 650.33,427.89 650.48,427.98 650.62,428.07 650.77,428.15 650.92,428.24 651.06,428.32 651.21,428.41 651.35,428.49 651.49,428.58 651.63,428.66 651.78,428.74 651.92,428.82 652.06,428.91 652.2,428.99 652.33,429.07 652.47,429.15 652.61,429.23 652.75,429.31 652.88,429.39 653.02,429.47 653.15,429.54 653.29,429.62 653.42,429.7 653.56,429.78 653.69,429.85 653.82,429.93 653.95,430.01 654.08,430.08 654.21,430.16 654.34,430.23 654.47,430.31 654.6,430.38 654.73,430.45 654.85,430.53 654.98,430.6 655.11,430.67 655.23,430.75 655.36,430.82 655.48,430.89 655.61,430.96 655.73,431.03 655.85,431.1 655.98,431.17 656.1,431.24 656.22,431.31 656.34,431.38 656.46,431.45 656.58,431.52 656.7,431.59 656.82,431.65 656.94,431.72 657.06,431.79 657.18,431.86 657.29,431.92 657.41,431.99 657.53,432.05 657.64,432.12 657.76,432.19 657.87,432.25 657.99,432.32 658.1,432.38 658.22,432.44 658.33,432.51 658.44,432.57 658.55,432.64 658.67,432.7 658.78,432.76 658.89,432.82 659,432.89 659.11,432.95 659.22,433.01 659.33,433.07 659.44,433.13 659.55,433.19 659.65,433.25 659.76,433.32 659.87,433.38 659.98,433.44 660.08,433.5 660.19,433.55 660.3,433.61 660.4,433.67 660.51,433.73 660.61,433.79 660.72,433.85 660.82,433.91 660.92,433.96 661.03,434.02 661.13,434.08 661.23,434.14 661.33,434.19 661.44,434.25 661.54,434.31 661.64,434.36 661.74,434.42 661.84,434.47 661.94,434.53 662.04,434.58 662.14,434.64 662.24,434.69 662.34,434.75 662.44,434.8 662.54,434.86 662.63,434.91 662.73,434.96 662.83,435.02 662.92,435.07 663.02,435.12 663.12,435.18 663.21,435.23 663.31,435.28 663.4,435.34 663.5,435.39 663.59,435.44 663.69,435.49 663.78,435.54 663.88,435.59 663.97,435.65 664.06,435.7 664.16,435.75 664.25,435.8 664.34,435.85 664.43,435.9 664.52,435.95 664.62,436 664.71,436.05 664.8,436.1 664.89,436.15 664.98,436.2 665.07,436.24 665.16,436.29 665.25,436.34 665.34,436.39 665.43,436.44 665.52,436.49 665.6,436.53 665.69,436.58 665.78,436.63 665.87,436.68 665.95,436.72 666.04,436.77 666.13,436.82 666.22,436.87 666.3,436.91 666.39,436.96 666.47,437 666.56,437.05 666.64,437.1 666.73,437.14 666.81,437.19 666.9,437.23 666.98,437.28 667.07,437.32 667.15,437.37 667.24,437.41 667.32,437.46 667.4,437.5 667.49,437.55 667.57,437.59 667.65,437.64 667.73,437.68 667.81,437.72 667.9,437.77 667.98,437.81 668.06,437.86 668.14,437.9 668.22,437.94 668.3,437.98 668.38,438.03 668.46,438.07 668.54,438.11 668.62,438.16 668.7,438.2 668.78,438.24 668.86,438.28 668.94,438.32 669.02,438.37 669.1,438.41 669.18,438.45 669.25,438.49 669.33,438.53 669.41,438.57 669.49,438.61 669.56,438.65 669.64,438.7 669.72,438.74 669.8,438.78 669.87,438.82 669.95,438.86 670.02,438.9 670.1,438.94 670.18,438.98 670.25,439.02 670.33,439.06 670.4,439.1 670.48,439.14 670.55,439.17 670.63,439.21 670.7,439.25 670.78,439.29 670.85,439.33 670.92,439.37" stroke="#ff0000" stroke-opacity="0.6" stroke-width="1.8" stroke-dasharray="6.7 2.9" stroke-linecap="butt"/>
</g>
<path d="M399.5 483.5v3.4M467.5 483.5v3.4M535.5 483.5v3.4M602.5 483.5v3.4M670.5 483.5v3.4M385.5 466.5h-3.4M385.5 377.5h-3.4" stroke="#444" stroke-width="1" fill="none"/>
<path d="M388.68 483.5v2.1M392.62 483.5v2.1M396.09 483.5v2.1M419.65 483.5v2.1M431.61 483.5v2.1M440.1 483.5v2.1M446.68 483.5v2.1M452.06 483.5v2.1M456.61 483.5v2.1M460.55 483.5v2.1M464.02 483.5v2.1M487.58 483.5v2.1M499.54 483.5v2.1M508.03 483.5v2.1M514.61 483.5v2.1M519.99 483.5v2.1M524.54 483.5v2.1M528.48 483.5v2.1M531.95 483.5v2.1M555.51 483.5v2.1M567.47 483.5v2.1M575.96 483.5v2.1M582.54 483.5v2.1M587.92 483.5v2.1M592.47 483.5v2.1M596.41 483.5v2.1M599.88 483.5v2.1M623.44 483.5v2.1M635.4 483.5v2.1M643.89 483.5v2.1M650.47 483.5v2.1M655.85 483.5v2.1M660.4 483.5v2.1M664.34 483.5v2.1M667.81 483.5v2.1M385.5 480.19h-2.1M385.5 475.02h-2.1M385.5 470.47h-2.1M385.5 439.61h-2.1M385.5 423.94h-2.1M385.5 412.82h-2.1M385.5 404.19h-2.1M385.5 397.14h-2.1M385.5 391.19h-2.1M385.5 386.02h-2.1M385.5 381.47h-2.1M385.5 350.61h-2.1M385.5 334.94h-2.1M385.5 323.82h-2.1M385.5 315.19h-2.1M385.5 308.14h-2.1M385.5 302.19h-2.1M385.5 297.02h-2.1M385.5 292.47h-2.1" stroke="#555" stroke-width="0.8" fill="none"/>
<rect x="385.5" y="289.5" width="299.0" height="194.0" fill="none" stroke="#484848" stroke-width="1"/>
<text x="389.1" y="499.6" font-size="13.4" textLength="15.0" lengthAdjust="spacingAndGlyphs">10</text><text x="404.3" y="494.7" font-size="9.3" textLength="5.8" lengthAdjust="spacingAndGlyphs">0</text>
<text x="457.03" y="499.6" font-size="13.4" textLength="15.0" lengthAdjust="spacingAndGlyphs">10</text><text x="472.23" y="494.7" font-size="9.3" textLength="5.8" lengthAdjust="spacingAndGlyphs">1</text>
<text x="524.96" y="499.6" font-size="13.4" textLength="15.0" lengthAdjust="spacingAndGlyphs">10</text><text x="540.16" y="494.7" font-size="9.3" textLength="5.8" lengthAdjust="spacingAndGlyphs">2</text>
<text x="592.89" y="499.6" font-size="13.4" textLength="15.0" lengthAdjust="spacingAndGlyphs">10</text><text x="608.09" y="494.7" font-size="9.3" textLength="5.8" lengthAdjust="spacingAndGlyphs">3</text>
<text x="660.82" y="499.6" font-size="13.4" textLength="15.0" lengthAdjust="spacingAndGlyphs">10</text><text x="676.02" y="494.7" font-size="9.3" textLength="5.8" lengthAdjust="spacingAndGlyphs">4</text>
<text x="358.6" y="471.1" font-size="13.4" textLength="15.0" lengthAdjust="spacingAndGlyphs">10</text><text x="373.8" y="466.2" font-size="9.3" textLength="5.8" lengthAdjust="spacingAndGlyphs">0</text>
<text x="358.6" y="382.1" font-size="13.4" textLength="15.0" lengthAdjust="spacingAndGlyphs">10</text><text x="373.8" y="377.2" font-size="9.3" textLength="5.8" lengthAdjust="spacingAndGlyphs">1</text>
<text x="536" y="517.9" font-size="13.4" font-style="italic" text-anchor="middle">i</text>
<rect x="560.3" y="295.5" width="118" height="44" rx="2.4" fill="#fff" fill-opacity="0.8" stroke="#ccc" stroke-width="1"/>
<path d="M563.9 307.2h25.6" stroke="#008000" stroke-opacity="0.7" stroke-width="1.25"/>
<path d="M564.7 327.2h24" stroke="#ff0000" stroke-opacity="0.6" stroke-width="1.8" stroke-dasharray="6.7 2.9"/>
<text x="599" y="311.5" font-size="12.6" textLength="60.6" lengthAdjust="spacingAndGlyphs">measured</text>
<text x="663.1" y="311.5" font-size="12.6" font-style="italic">b</text><path d="M663.6 301h7.9" stroke="#000" stroke-width="0.8"/><text x="670.4" y="313.7" font-size="8.8" font-style="italic">i</text>
<text x="599" y="331.4" font-size="12.6" textLength="57.4" lengthAdjust="spacingAndGlyphs">analytical</text>
<text x="660.9" y="331.4" font-size="12.6" font-style="italic">b</text><path d="M661.4 320.9h7.9" stroke="#000" stroke-width="0.8"/><text x="668.2" y="333.6" font-size="8.8" font-style="italic">i</text>
<text x="2.6" y="11.2" font-size="15.2" font-weight="bold" textLength="15.6" lengthAdjust="spacingAndGlyphs">a)</text>
<text x="355.8" y="11.4" font-size="15.2" font-weight="bold" textLength="16.0" lengthAdjust="spacingAndGlyphs">b)</text>
<text x="0.6" y="273.0" font-size="15.2" font-weight="bold" textLength="14.0" lengthAdjust="spacingAndGlyphs">c)</text>
<text x="357.0" y="272.0" font-size="15.2" font-weight="bold" textLength="16.6" lengthAdjust="spacingAndGlyphs">d)</text>
<text x="163.0" y="15.1" font-size="12.6" font-style="italic" >q</text>
<text x="173.4" y="15.1" font-size="12.6" textLength="9.8" lengthAdjust="spacingAndGlyphs">=</text>
<text x="186.3" y="15.1" font-size="12.6" textLength="7.4" lengthAdjust="spacingAndGlyphs">2</text>
<text x="514.2" y="17.4" font-size="12.6" font-style="italic" >q</text>
<text x="524.5" y="17.4" font-size="12.6" textLength="9.8" lengthAdjust="spacingAndGlyphs">=</text>
<text x="537.6" y="17.4" font-size="12.6" textLength="15.2" lengthAdjust="spacingAndGlyphs">10</text>
<text x="163.7" y="282.0" font-size="12.6" font-style="italic" >q</text>
<text x="174.4" y="282.0" font-size="12.6" textLength="9.8" lengthAdjust="spacingAndGlyphs">=</text>
<text x="186.5" y="282.0" font-size="12.6" font-style="italic" >q</text>
<text x="194.4" y="285.9" font-size="13" >*</text>
<text x="520.0" y="283.4" font-size="12.6" font-style="italic" >q</text>
<text x="530.4" y="283.4" font-size="12.6" textLength="9.8" lengthAdjust="spacingAndGlyphs">=</text>
<text x="542.8" y="283.4" font-size="12.6" font-style="italic" >q</text>
<text x="550.9" y="285.5" font-size="8.8" textLength="13.2" lengthAdjust="spacingAndGlyphs">res</text>
</g>
</svg>
</body></html>
